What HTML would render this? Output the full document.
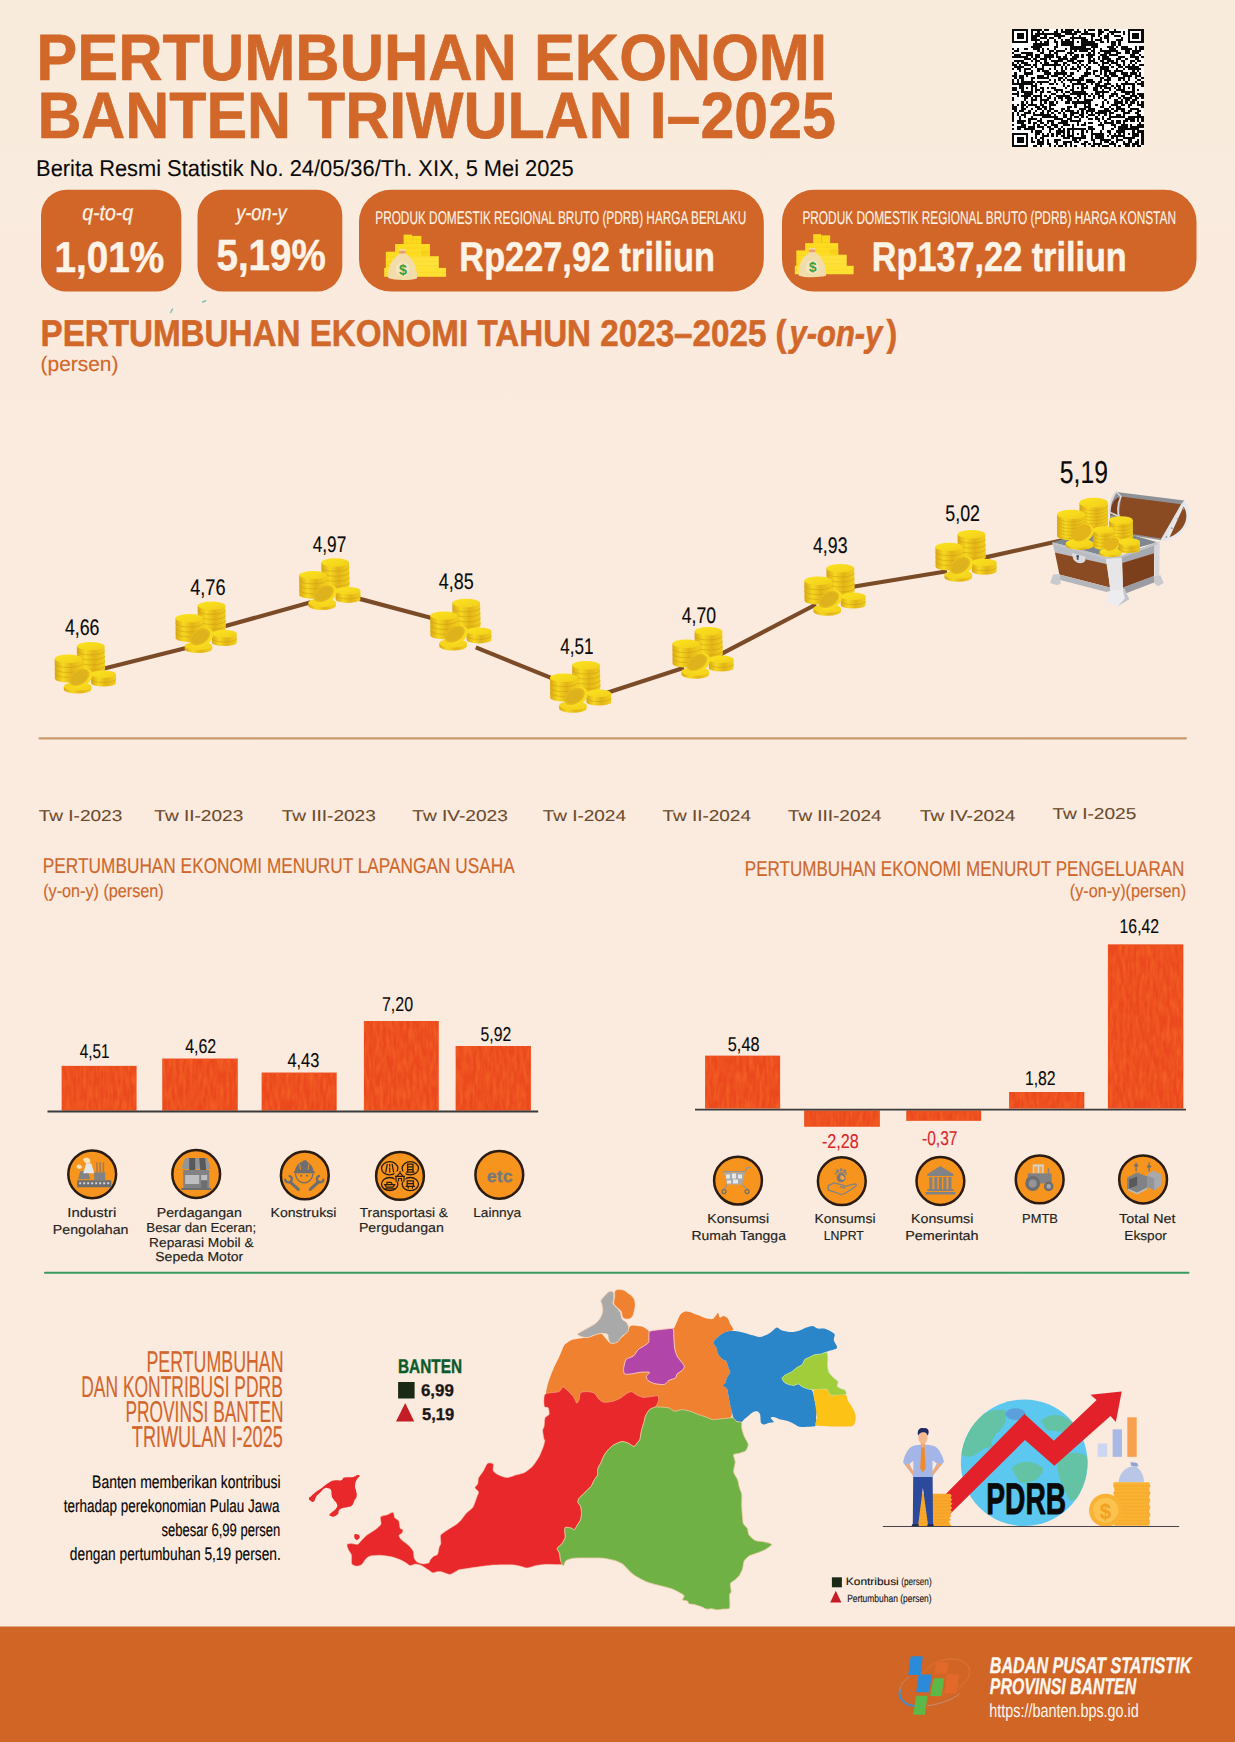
<!DOCTYPE html>
<html lang="id">
<head>
<meta charset="utf-8">
<title>Pertumbuhan Ekonomi Banten Triwulan I-2025</title>
<style>
html,body{margin:0;padding:0;background:#fbeade;}
body{width:1235px;height:1742px;overflow:hidden;font-family:"Liberation Sans", sans-serif;}
svg{display:block;position:absolute;left:0;top:0;}
text{font-family:"Liberation Sans", sans-serif;white-space:pre;text-rendering:geometricPrecision;}
</style>
</head>
<body>
<svg width="1235" height="1742" viewBox="0 0 1235 1742">
<defs>
<linearGradient id="cs" x1="0" x2="1" y1="0" y2="0">
 <stop offset="0" stop-color="#d9a714"/><stop offset="0.3" stop-color="#f7d820"/><stop offset="0.6" stop-color="#e2b417"/><stop offset="1" stop-color="#f3cf1c"/>
</linearGradient>
<linearGradient id="ct" x1="0" x2="1" y1="0" y2="1">
 <stop offset="0" stop-color="#fbe31f"/><stop offset="1" stop-color="#f2cf1a"/>
</linearGradient>
<filter id="tex" x="0" y="0" width="100%" height="100%" color-interpolation-filters="sRGB">
 <feTurbulence type="fractalNoise" baseFrequency="0.3 0.07" numOctaves="2" seed="3" result="n"/>
 <feColorMatrix in="n" type="matrix" values="0 0 0 0 0.96  0 0 0 0 0.41  0 0 0 0 0.15  1.4 0 0 0 -0.42" result="c"/>
 <feComposite in="c" in2="SourceGraphic" operator="in" result="cc"/>
 <feMerge><feMergeNode in="SourceGraphic"/><feMergeNode in="cc"/></feMerge>
</filter>
<g id="coins">
 <!-- back stack -->
 <path d="M22.6,4 L22.6,27 A13.8,4 0 0 0 50.8,27 L50.2,4 Z" fill="url(#cs)"/>
 <path d="M22.8,9 A13.8,4 0 0 0 50.4,9 M23,14 A13.8,4 0 0 0 50.6,14 M23,19 A13.8,4 0 0 0 50.8,19 M23,24 A13.8,4 0 0 0 50.8,24" fill="none" stroke="#c99a10" stroke-width="0.7" opacity="0.7"/>
 <ellipse cx="36.4" cy="4.2" rx="13.8" ry="4.2" fill="url(#ct)"/>
 <!-- left stack -->
 <path d="M0.4,16.8 L0.6,37 A13.8,4 0 0 0 28,37 L28,16.8 Z" fill="url(#cs)"/>
 <path d="M0.5,22 A13.8,4 0 0 0 28,22 M0.5,27 A13.8,4 0 0 0 28,27 M0.6,32 A13.8,4 0 0 0 28,32" fill="none" stroke="#c99a10" stroke-width="0.7" opacity="0.7"/>
 <ellipse cx="14.2" cy="16.8" rx="13.8" ry="4.2" fill="url(#ct)"/>
 <!-- front right -->
 <path d="M36.8,32.4 L36.8,41 A12.4,3.6 0 0 0 61.6,41 L61.6,32.4 Z" fill="url(#cs)"/>
 <path d="M36.8,37 A12.4,3.6 0 0 0 61.6,37" fill="none" stroke="#c99a10" stroke-width="0.7" opacity="0.7"/>
 <ellipse cx="49.2" cy="32.4" rx="12.4" ry="3.8" fill="url(#ct)"/>
 <!-- bottom coin -->
 <path d="M9.5,44.5 L9.5,47.5 A13.8,4.2 0 0 0 37.1,47.5 L37.1,44.5 Z" fill="url(#cs)"/>
 <ellipse cx="23.3" cy="44.5" rx="13.8" ry="4.2" fill="#f6d51d"/>
 <!-- tilted coin -->
 <g transform="rotate(-33 25.5 35.5)"><ellipse cx="26" cy="36.6" rx="12.6" ry="8.8" fill="#f8da20"/><ellipse cx="25" cy="35" rx="11.2" ry="7.4" fill="#e6ba1b"/><ellipse cx="25" cy="35.2" rx="9.4" ry="6" fill="#deb21c"/></g>
</g>
</defs>
<linearGradient id="bgg" x1="0" y1="0" x2="0" y2="1"><stop offset="0" stop-color="#f8ebdc"/><stop offset="0.45" stop-color="#f9ebdd"/><stop offset="1" stop-color="#fbeade"/></linearGradient>
<rect x="0" y="0" width="1235" height="420" fill="url(#bgg)"/>
<rect x="1012" y="29" width="131.8" height="118" fill="#fff"/><path d="M1012.00,29.00h16.19v2.07h-16.19zM1030.50,29.00h11.56v2.07h-11.56zM1044.37,29.00h4.62v2.07h-4.62zM1055.93,29.00h2.31v2.07h-2.31zM1060.56,29.00h2.31v2.07h-2.31zM1065.18,29.00h9.25v2.07h-9.25zM1076.74,29.00h2.31v2.07h-2.31zM1083.68,29.00h2.31v2.07h-2.31zM1088.31,29.00h6.94v2.07h-6.94zM1097.55,29.00h4.62v2.07h-4.62zM1104.49,29.00h4.62v2.07h-4.62zM1113.74,29.00h2.31v2.07h-2.31zM1127.61,29.00h16.19v2.07h-16.19zM1012.00,31.07h2.31v2.07h-2.31zM1025.87,31.07h2.31v2.07h-2.31zM1030.50,31.07h2.31v2.07h-2.31zM1037.44,31.07h2.31v2.07h-2.31zM1042.06,31.07h2.31v2.07h-2.31zM1053.62,31.07h4.62v2.07h-4.62zM1060.56,31.07h11.56v2.07h-11.56zM1074.43,31.07h6.94v2.07h-6.94zM1083.68,31.07h4.62v2.07h-4.62zM1097.55,31.07h6.94v2.07h-6.94zM1109.12,31.07h11.56v2.07h-11.56zM1122.99,31.07h2.31v2.07h-2.31zM1127.61,31.07h2.31v2.07h-2.31zM1141.49,31.07h2.31v2.07h-2.31zM1012.00,33.14h2.31v2.07h-2.31zM1016.62,33.14h6.94v2.07h-6.94zM1025.87,33.14h2.31v2.07h-2.31zM1030.50,33.14h2.31v2.07h-2.31zM1035.12,33.14h25.44v2.07h-25.44zM1065.18,33.14h11.56v2.07h-11.56zM1081.37,33.14h13.87v2.07h-13.87zM1097.55,33.14h4.62v2.07h-4.62zM1106.80,33.14h2.31v2.07h-2.31zM1111.43,33.14h2.31v2.07h-2.31zM1122.99,33.14h2.31v2.07h-2.31zM1127.61,33.14h2.31v2.07h-2.31zM1132.24,33.14h6.94v2.07h-6.94zM1141.49,33.14h2.31v2.07h-2.31zM1012.00,35.21h2.31v2.07h-2.31zM1016.62,35.21h6.94v2.07h-6.94zM1025.87,35.21h2.31v2.07h-2.31zM1030.50,35.21h9.25v2.07h-9.25zM1044.37,35.21h2.31v2.07h-2.31zM1053.62,35.21h11.56v2.07h-11.56zM1072.12,35.21h2.31v2.07h-2.31zM1079.06,35.21h2.31v2.07h-2.31zM1090.62,35.21h4.62v2.07h-4.62zM1097.55,35.21h2.31v2.07h-2.31zM1104.49,35.21h4.62v2.07h-4.62zM1113.74,35.21h6.94v2.07h-6.94zM1127.61,35.21h2.31v2.07h-2.31zM1132.24,35.21h6.94v2.07h-6.94zM1141.49,35.21h2.31v2.07h-2.31zM1012.00,37.28h2.31v2.07h-2.31zM1016.62,37.28h6.94v2.07h-6.94zM1025.87,37.28h2.31v2.07h-2.31zM1030.50,37.28h6.94v2.07h-6.94zM1039.75,37.28h6.94v2.07h-6.94zM1049.00,37.28h4.62v2.07h-4.62zM1058.25,37.28h2.31v2.07h-2.31zM1069.81,37.28h16.19v2.07h-16.19zM1090.62,37.28h2.31v2.07h-2.31zM1099.87,37.28h2.31v2.07h-2.31zM1104.49,37.28h4.62v2.07h-4.62zM1120.68,37.28h2.31v2.07h-2.31zM1127.61,37.28h2.31v2.07h-2.31zM1132.24,37.28h6.94v2.07h-6.94zM1141.49,37.28h2.31v2.07h-2.31zM1012.00,39.35h2.31v2.07h-2.31zM1025.87,39.35h2.31v2.07h-2.31zM1030.50,39.35h9.25v2.07h-9.25zM1046.68,39.35h2.31v2.07h-2.31zM1053.62,39.35h2.31v2.07h-2.31zM1060.56,39.35h2.31v2.07h-2.31zM1065.18,39.35h4.62v2.07h-4.62zM1072.12,39.35h2.31v2.07h-2.31zM1081.37,39.35h6.94v2.07h-6.94zM1090.62,39.35h2.31v2.07h-2.31zM1095.24,39.35h6.94v2.07h-6.94zM1106.80,39.35h2.31v2.07h-2.31zM1116.05,39.35h6.94v2.07h-6.94zM1127.61,39.35h2.31v2.07h-2.31zM1141.49,39.35h2.31v2.07h-2.31zM1012.00,41.42h16.19v2.07h-16.19zM1035.12,41.42h2.31v2.07h-2.31zM1039.75,41.42h2.31v2.07h-2.31zM1044.37,41.42h4.62v2.07h-4.62zM1053.62,41.42h4.62v2.07h-4.62zM1060.56,41.42h13.87v2.07h-13.87zM1076.74,41.42h2.31v2.07h-2.31zM1081.37,41.42h13.87v2.07h-13.87zM1099.87,41.42h4.62v2.07h-4.62zM1106.80,41.42h2.31v2.07h-2.31zM1111.43,41.42h4.62v2.07h-4.62zM1118.36,41.42h2.31v2.07h-2.31zM1127.61,41.42h16.19v2.07h-16.19zM1032.81,43.49h16.19v2.07h-16.19zM1055.93,43.49h2.31v2.07h-2.31zM1060.56,43.49h13.87v2.07h-13.87zM1081.37,43.49h16.19v2.07h-16.19zM1111.43,43.49h4.62v2.07h-4.62zM1118.36,43.49h2.31v2.07h-2.31zM1030.50,45.56h11.56v2.07h-11.56zM1053.62,45.56h4.62v2.07h-4.62zM1069.81,45.56h16.19v2.07h-16.19zM1090.62,45.56h6.94v2.07h-6.94zM1106.80,45.56h6.94v2.07h-6.94zM1116.05,45.56h2.31v2.07h-2.31zM1120.68,45.56h6.94v2.07h-6.94zM1134.55,45.56h2.31v2.07h-2.31zM1139.18,45.56h4.62v2.07h-4.62zM1012.00,47.63h2.31v2.07h-2.31zM1016.62,47.63h2.31v2.07h-2.31zM1023.56,47.63h4.62v2.07h-4.62zM1032.81,47.63h6.94v2.07h-6.94zM1042.06,47.63h2.31v2.07h-2.31zM1046.68,47.63h2.31v2.07h-2.31zM1053.62,47.63h2.31v2.07h-2.31zM1065.18,47.63h2.31v2.07h-2.31zM1069.81,47.63h20.81v2.07h-20.81zM1092.93,47.63h2.31v2.07h-2.31zM1099.87,47.63h2.31v2.07h-2.31zM1109.12,47.63h6.94v2.07h-6.94zM1120.68,47.63h11.56v2.07h-11.56zM1134.55,47.63h2.31v2.07h-2.31zM1139.18,47.63h4.62v2.07h-4.62zM1014.31,49.70h4.62v2.07h-4.62zM1037.44,49.70h2.31v2.07h-2.31zM1042.06,49.70h2.31v2.07h-2.31zM1049.00,49.70h4.62v2.07h-4.62zM1055.93,49.70h9.25v2.07h-9.25zM1069.81,49.70h2.31v2.07h-2.31zM1074.43,49.70h2.31v2.07h-2.31zM1079.06,49.70h9.25v2.07h-9.25zM1090.62,49.70h4.62v2.07h-4.62zM1099.87,49.70h18.50v2.07h-18.50zM1125.30,49.70h4.62v2.07h-4.62zM1132.24,49.70h9.25v2.07h-9.25zM1012.00,51.77h2.31v2.07h-2.31zM1021.25,51.77h11.56v2.07h-11.56zM1039.75,51.77h4.62v2.07h-4.62zM1049.00,51.77h2.31v2.07h-2.31zM1053.62,51.77h4.62v2.07h-4.62zM1067.49,51.77h6.94v2.07h-6.94zM1088.31,51.77h2.31v2.07h-2.31zM1092.93,51.77h2.31v2.07h-2.31zM1097.55,51.77h2.31v2.07h-2.31zM1104.49,51.77h6.94v2.07h-6.94zM1116.05,51.77h4.62v2.07h-4.62zM1125.30,51.77h4.62v2.07h-4.62zM1132.24,51.77h6.94v2.07h-6.94zM1014.31,53.84h6.94v2.07h-6.94zM1025.87,53.84h6.94v2.07h-6.94zM1035.12,53.84h4.62v2.07h-4.62zM1044.37,53.84h9.25v2.07h-9.25zM1055.93,53.84h2.31v2.07h-2.31zM1065.18,53.84h2.31v2.07h-2.31zM1069.81,53.84h2.31v2.07h-2.31zM1074.43,53.84h4.62v2.07h-4.62zM1081.37,53.84h2.31v2.07h-2.31zM1085.99,53.84h9.25v2.07h-9.25zM1099.87,53.84h6.94v2.07h-6.94zM1109.12,53.84h9.25v2.07h-9.25zM1129.93,53.84h4.62v2.07h-4.62zM1139.18,53.84h2.31v2.07h-2.31zM1012.00,55.91h16.19v2.07h-16.19zM1030.50,55.91h2.31v2.07h-2.31zM1035.12,55.91h4.62v2.07h-4.62zM1044.37,55.91h9.25v2.07h-9.25zM1055.93,55.91h4.62v2.07h-4.62zM1062.87,55.91h4.62v2.07h-4.62zM1072.12,55.91h6.94v2.07h-6.94zM1081.37,55.91h2.31v2.07h-2.31zM1088.31,55.91h4.62v2.07h-4.62zM1097.55,55.91h2.31v2.07h-2.31zM1102.18,55.91h6.94v2.07h-6.94zM1118.36,55.91h6.94v2.07h-6.94zM1129.93,55.91h9.25v2.07h-9.25zM1141.49,55.91h2.31v2.07h-2.31zM1023.56,57.98h6.94v2.07h-6.94zM1032.81,57.98h4.62v2.07h-4.62zM1039.75,57.98h6.94v2.07h-6.94zM1049.00,57.98h2.31v2.07h-2.31zM1058.25,57.98h9.25v2.07h-9.25zM1069.81,57.98h6.94v2.07h-6.94zM1088.31,57.98h2.31v2.07h-2.31zM1092.93,57.98h2.31v2.07h-2.31zM1097.55,57.98h2.31v2.07h-2.31zM1102.18,57.98h9.25v2.07h-9.25zM1116.05,57.98h4.62v2.07h-4.62zM1125.30,57.98h2.31v2.07h-2.31zM1134.55,57.98h4.62v2.07h-4.62zM1014.31,60.05h9.25v2.07h-9.25zM1030.50,60.05h2.31v2.07h-2.31zM1035.12,60.05h4.62v2.07h-4.62zM1044.37,60.05h2.31v2.07h-2.31zM1051.31,60.05h11.56v2.07h-11.56zM1067.49,60.05h6.94v2.07h-6.94zM1076.74,60.05h6.94v2.07h-6.94zM1088.31,60.05h6.94v2.07h-6.94zM1099.87,60.05h4.62v2.07h-4.62zM1106.80,60.05h6.94v2.07h-6.94zM1116.05,60.05h2.31v2.07h-2.31zM1120.68,60.05h4.62v2.07h-4.62zM1129.93,60.05h4.62v2.07h-4.62zM1136.86,60.05h4.62v2.07h-4.62zM1012.00,62.12h2.31v2.07h-2.31zM1016.62,62.12h2.31v2.07h-2.31zM1021.25,62.12h6.94v2.07h-6.94zM1035.12,62.12h2.31v2.07h-2.31zM1039.75,62.12h2.31v2.07h-2.31zM1044.37,62.12h4.62v2.07h-4.62zM1053.62,62.12h4.62v2.07h-4.62zM1062.87,62.12h4.62v2.07h-4.62zM1072.12,62.12h4.62v2.07h-4.62zM1079.06,62.12h2.31v2.07h-2.31zM1088.31,62.12h2.31v2.07h-2.31zM1092.93,62.12h4.62v2.07h-4.62zM1102.18,62.12h6.94v2.07h-6.94zM1111.43,62.12h6.94v2.07h-6.94zM1122.99,62.12h2.31v2.07h-2.31zM1129.93,62.12h2.31v2.07h-2.31zM1134.55,62.12h2.31v2.07h-2.31zM1012.00,64.19h4.62v2.07h-4.62zM1018.94,64.19h2.31v2.07h-2.31zM1023.56,64.19h6.94v2.07h-6.94zM1032.81,64.19h4.62v2.07h-4.62zM1042.06,64.19h18.50v2.07h-18.50zM1062.87,64.19h2.31v2.07h-2.31zM1067.49,64.19h2.31v2.07h-2.31zM1076.74,64.19h2.31v2.07h-2.31zM1081.37,64.19h2.31v2.07h-2.31zM1085.99,64.19h2.31v2.07h-2.31zM1097.55,64.19h2.31v2.07h-2.31zM1102.18,64.19h2.31v2.07h-2.31zM1109.12,64.19h2.31v2.07h-2.31zM1116.05,64.19h4.62v2.07h-4.62zM1122.99,64.19h2.31v2.07h-2.31zM1127.61,64.19h2.31v2.07h-2.31zM1132.24,64.19h2.31v2.07h-2.31zM1139.18,64.19h4.62v2.07h-4.62zM1014.31,66.26h9.25v2.07h-9.25zM1030.50,66.26h2.31v2.07h-2.31zM1035.12,66.26h2.31v2.07h-2.31zM1042.06,66.26h2.31v2.07h-2.31zM1053.62,66.26h2.31v2.07h-2.31zM1060.56,66.26h2.31v2.07h-2.31zM1065.18,66.26h2.31v2.07h-2.31zM1072.12,66.26h2.31v2.07h-2.31zM1076.74,66.26h4.62v2.07h-4.62zM1083.68,66.26h2.31v2.07h-2.31zM1088.31,66.26h2.31v2.07h-2.31zM1099.87,66.26h9.25v2.07h-9.25zM1111.43,66.26h2.31v2.07h-2.31zM1118.36,66.26h4.62v2.07h-4.62zM1125.30,66.26h13.87v2.07h-13.87zM1012.00,68.33h2.31v2.07h-2.31zM1016.62,68.33h4.62v2.07h-4.62zM1023.56,68.33h6.94v2.07h-6.94zM1037.44,68.33h6.94v2.07h-6.94zM1049.00,68.33h2.31v2.07h-2.31zM1053.62,68.33h2.31v2.07h-2.31zM1060.56,68.33h2.31v2.07h-2.31zM1065.18,68.33h2.31v2.07h-2.31zM1069.81,68.33h6.94v2.07h-6.94zM1079.06,68.33h2.31v2.07h-2.31zM1085.99,68.33h4.62v2.07h-4.62zM1099.87,68.33h9.25v2.07h-9.25zM1116.05,68.33h2.31v2.07h-2.31zM1122.99,68.33h2.31v2.07h-2.31zM1127.61,68.33h13.87v2.07h-13.87zM1018.94,70.40h2.31v2.07h-2.31zM1023.56,70.40h2.31v2.07h-2.31zM1030.50,70.40h2.31v2.07h-2.31zM1037.44,70.40h2.31v2.07h-2.31zM1042.06,70.40h6.94v2.07h-6.94zM1055.93,70.40h2.31v2.07h-2.31zM1060.56,70.40h4.62v2.07h-4.62zM1076.74,70.40h2.31v2.07h-2.31zM1085.99,70.40h2.31v2.07h-2.31zM1092.93,70.40h4.62v2.07h-4.62zM1099.87,70.40h2.31v2.07h-2.31zM1104.49,70.40h6.94v2.07h-6.94zM1113.74,70.40h9.25v2.07h-9.25zM1132.24,70.40h2.31v2.07h-2.31zM1136.86,70.40h2.31v2.07h-2.31zM1014.31,72.47h2.31v2.07h-2.31zM1023.56,72.47h9.25v2.07h-9.25zM1044.37,72.47h6.94v2.07h-6.94zM1053.62,72.47h13.87v2.07h-13.87zM1069.81,72.47h4.62v2.07h-4.62zM1083.68,72.47h6.94v2.07h-6.94zM1092.93,72.47h2.31v2.07h-2.31zM1099.87,72.47h2.31v2.07h-2.31zM1104.49,72.47h2.31v2.07h-2.31zM1109.12,72.47h6.94v2.07h-6.94zM1120.68,72.47h6.94v2.07h-6.94zM1129.93,72.47h6.94v2.07h-6.94zM1139.18,72.47h2.31v2.07h-2.31zM1012.00,74.54h4.62v2.07h-4.62zM1018.94,74.54h4.62v2.07h-4.62zM1025.87,74.54h2.31v2.07h-2.31zM1037.44,74.54h6.94v2.07h-6.94zM1046.68,74.54h2.31v2.07h-2.31zM1051.31,74.54h6.94v2.07h-6.94zM1062.87,74.54h2.31v2.07h-2.31zM1067.49,74.54h4.62v2.07h-4.62zM1081.37,74.54h6.94v2.07h-6.94zM1095.24,74.54h4.62v2.07h-4.62zM1104.49,74.54h4.62v2.07h-4.62zM1111.43,74.54h6.94v2.07h-6.94zM1122.99,74.54h9.25v2.07h-9.25zM1134.55,74.54h6.94v2.07h-6.94zM1014.31,76.61h2.31v2.07h-2.31zM1018.94,76.61h4.62v2.07h-4.62zM1030.50,76.61h4.62v2.07h-4.62zM1037.44,76.61h11.56v2.07h-11.56zM1058.25,76.61h4.62v2.07h-4.62zM1065.18,76.61h2.31v2.07h-2.31zM1072.12,76.61h2.31v2.07h-2.31zM1079.06,76.61h4.62v2.07h-4.62zM1099.87,76.61h4.62v2.07h-4.62zM1106.80,76.61h4.62v2.07h-4.62zM1118.36,76.61h6.94v2.07h-6.94zM1127.61,76.61h2.31v2.07h-2.31zM1134.55,76.61h2.31v2.07h-2.31zM1141.49,76.61h2.31v2.07h-2.31zM1012.00,78.68h2.31v2.07h-2.31zM1016.62,78.68h2.31v2.07h-2.31zM1021.25,78.68h2.31v2.07h-2.31zM1030.50,78.68h2.31v2.07h-2.31zM1049.00,78.68h2.31v2.07h-2.31zM1053.62,78.68h2.31v2.07h-2.31zM1058.25,78.68h2.31v2.07h-2.31zM1062.87,78.68h2.31v2.07h-2.31zM1067.49,78.68h16.19v2.07h-16.19zM1085.99,78.68h6.94v2.07h-6.94zM1099.87,78.68h2.31v2.07h-2.31zM1104.49,78.68h6.94v2.07h-6.94zM1118.36,78.68h2.31v2.07h-2.31zM1122.99,78.68h2.31v2.07h-2.31zM1127.61,78.68h2.31v2.07h-2.31zM1136.86,78.68h4.62v2.07h-4.62zM1012.00,80.75h2.31v2.07h-2.31zM1016.62,80.75h2.31v2.07h-2.31zM1021.25,80.75h13.87v2.07h-13.87zM1037.44,80.75h11.56v2.07h-11.56zM1053.62,80.75h2.31v2.07h-2.31zM1060.56,80.75h2.31v2.07h-2.31zM1069.81,80.75h2.31v2.07h-2.31zM1076.74,80.75h4.62v2.07h-4.62zM1085.99,80.75h9.25v2.07h-9.25zM1097.55,80.75h4.62v2.07h-4.62zM1106.80,80.75h2.31v2.07h-2.31zM1125.30,80.75h2.31v2.07h-2.31zM1134.55,80.75h2.31v2.07h-2.31zM1141.49,80.75h2.31v2.07h-2.31zM1012.00,82.82h20.81v2.07h-20.81zM1035.12,82.82h2.31v2.07h-2.31zM1039.75,82.82h2.31v2.07h-2.31zM1049.00,82.82h4.62v2.07h-4.62zM1055.93,82.82h2.31v2.07h-2.31zM1062.87,82.82h2.31v2.07h-2.31zM1072.12,82.82h13.87v2.07h-13.87zM1090.62,82.82h2.31v2.07h-2.31zM1095.24,82.82h4.62v2.07h-4.62zM1104.49,82.82h6.94v2.07h-6.94zM1116.05,82.82h2.31v2.07h-2.31zM1120.68,82.82h13.87v2.07h-13.87zM1136.86,82.82h6.94v2.07h-6.94zM1018.94,84.89h4.62v2.07h-4.62zM1030.50,84.89h6.94v2.07h-6.94zM1062.87,84.89h2.31v2.07h-2.31zM1067.49,84.89h2.31v2.07h-2.31zM1072.12,84.89h2.31v2.07h-2.31zM1081.37,84.89h2.31v2.07h-2.31zM1085.99,84.89h2.31v2.07h-2.31zM1095.24,84.89h11.56v2.07h-11.56zM1111.43,84.89h2.31v2.07h-2.31zM1116.05,84.89h4.62v2.07h-4.62zM1122.99,84.89h2.31v2.07h-2.31zM1132.24,84.89h2.31v2.07h-2.31zM1141.49,84.89h2.31v2.07h-2.31zM1012.00,86.96h4.62v2.07h-4.62zM1018.94,86.96h4.62v2.07h-4.62zM1025.87,86.96h2.31v2.07h-2.31zM1030.50,86.96h2.31v2.07h-2.31zM1035.12,86.96h2.31v2.07h-2.31zM1039.75,86.96h4.62v2.07h-4.62zM1046.68,86.96h2.31v2.07h-2.31zM1051.31,86.96h4.62v2.07h-4.62zM1065.18,86.96h2.31v2.07h-2.31zM1072.12,86.96h2.31v2.07h-2.31zM1076.74,86.96h2.31v2.07h-2.31zM1081.37,86.96h6.94v2.07h-6.94zM1092.93,86.96h4.62v2.07h-4.62zM1099.87,86.96h2.31v2.07h-2.31zM1104.49,86.96h6.94v2.07h-6.94zM1113.74,86.96h2.31v2.07h-2.31zM1118.36,86.96h2.31v2.07h-2.31zM1122.99,86.96h2.31v2.07h-2.31zM1127.61,86.96h2.31v2.07h-2.31zM1132.24,86.96h2.31v2.07h-2.31zM1012.00,89.04h4.62v2.07h-4.62zM1021.25,89.04h2.31v2.07h-2.31zM1030.50,89.04h2.31v2.07h-2.31zM1035.12,89.04h4.62v2.07h-4.62zM1042.06,89.04h2.31v2.07h-2.31zM1053.62,89.04h9.25v2.07h-9.25zM1069.81,89.04h4.62v2.07h-4.62zM1081.37,89.04h2.31v2.07h-2.31zM1092.93,89.04h4.62v2.07h-4.62zM1102.18,89.04h2.31v2.07h-2.31zM1109.12,89.04h2.31v2.07h-2.31zM1116.05,89.04h9.25v2.07h-9.25zM1132.24,89.04h2.31v2.07h-2.31zM1136.86,89.04h2.31v2.07h-2.31zM1016.62,91.11h2.31v2.07h-2.31zM1021.25,91.11h11.56v2.07h-11.56zM1035.12,91.11h2.31v2.07h-2.31zM1039.75,91.11h4.62v2.07h-4.62zM1046.68,91.11h4.62v2.07h-4.62zM1055.93,91.11h2.31v2.07h-2.31zM1060.56,91.11h2.31v2.07h-2.31zM1065.18,91.11h4.62v2.07h-4.62zM1072.12,91.11h13.87v2.07h-13.87zM1095.24,91.11h13.87v2.07h-13.87zM1113.74,91.11h2.31v2.07h-2.31zM1120.68,91.11h13.87v2.07h-13.87zM1012.00,93.18h6.94v2.07h-6.94zM1023.56,93.18h9.25v2.07h-9.25zM1039.75,93.18h2.31v2.07h-2.31zM1051.31,93.18h4.62v2.07h-4.62zM1062.87,93.18h2.31v2.07h-2.31zM1069.81,93.18h18.50v2.07h-18.50zM1090.62,93.18h2.31v2.07h-2.31zM1095.24,93.18h4.62v2.07h-4.62zM1102.18,93.18h2.31v2.07h-2.31zM1111.43,93.18h6.94v2.07h-6.94zM1125.30,93.18h4.62v2.07h-4.62zM1132.24,93.18h2.31v2.07h-2.31zM1136.86,93.18h6.94v2.07h-6.94zM1016.62,95.25h2.31v2.07h-2.31zM1021.25,95.25h9.25v2.07h-9.25zM1032.81,95.25h9.25v2.07h-9.25zM1044.37,95.25h2.31v2.07h-2.31zM1049.00,95.25h2.31v2.07h-2.31zM1055.93,95.25h13.87v2.07h-13.87zM1076.74,95.25h4.62v2.07h-4.62zM1083.68,95.25h2.31v2.07h-2.31zM1088.31,95.25h2.31v2.07h-2.31zM1092.93,95.25h2.31v2.07h-2.31zM1097.55,95.25h6.94v2.07h-6.94zM1109.12,95.25h4.62v2.07h-4.62zM1116.05,95.25h2.31v2.07h-2.31zM1120.68,95.25h4.62v2.07h-4.62zM1129.93,95.25h6.94v2.07h-6.94zM1139.18,95.25h4.62v2.07h-4.62zM1012.00,97.32h2.31v2.07h-2.31zM1023.56,97.32h4.62v2.07h-4.62zM1030.50,97.32h2.31v2.07h-2.31zM1035.12,97.32h2.31v2.07h-2.31zM1039.75,97.32h2.31v2.07h-2.31zM1046.68,97.32h4.62v2.07h-4.62zM1053.62,97.32h2.31v2.07h-2.31zM1058.25,97.32h4.62v2.07h-4.62zM1065.18,97.32h6.94v2.07h-6.94zM1074.43,97.32h2.31v2.07h-2.31zM1079.06,97.32h2.31v2.07h-2.31zM1083.68,97.32h2.31v2.07h-2.31zM1092.93,97.32h2.31v2.07h-2.31zM1097.55,97.32h2.31v2.07h-2.31zM1102.18,97.32h2.31v2.07h-2.31zM1109.12,97.32h2.31v2.07h-2.31zM1118.36,97.32h2.31v2.07h-2.31zM1122.99,97.32h9.25v2.07h-9.25zM1134.55,97.32h4.62v2.07h-4.62zM1141.49,97.32h2.31v2.07h-2.31zM1012.00,99.39h2.31v2.07h-2.31zM1023.56,99.39h2.31v2.07h-2.31zM1030.50,99.39h6.94v2.07h-6.94zM1039.75,99.39h9.25v2.07h-9.25zM1053.62,99.39h2.31v2.07h-2.31zM1060.56,99.39h2.31v2.07h-2.31zM1067.49,99.39h4.62v2.07h-4.62zM1076.74,99.39h2.31v2.07h-2.31zM1083.68,99.39h9.25v2.07h-9.25zM1104.49,99.39h2.31v2.07h-2.31zM1113.74,99.39h4.62v2.07h-4.62zM1120.68,99.39h2.31v2.07h-2.31zM1125.30,99.39h4.62v2.07h-4.62zM1132.24,99.39h4.62v2.07h-4.62zM1021.25,101.46h2.31v2.07h-2.31zM1025.87,101.46h2.31v2.07h-2.31zM1030.50,101.46h2.31v2.07h-2.31zM1039.75,101.46h2.31v2.07h-2.31zM1044.37,101.46h2.31v2.07h-2.31zM1049.00,101.46h4.62v2.07h-4.62zM1055.93,101.46h2.31v2.07h-2.31zM1065.18,101.46h4.62v2.07h-4.62zM1072.12,101.46h18.50v2.07h-18.50zM1102.18,101.46h2.31v2.07h-2.31zM1106.80,101.46h2.31v2.07h-2.31zM1113.74,101.46h9.25v2.07h-9.25zM1125.30,101.46h2.31v2.07h-2.31zM1129.93,101.46h4.62v2.07h-4.62zM1136.86,101.46h2.31v2.07h-2.31zM1141.49,101.46h2.31v2.07h-2.31zM1012.00,103.53h2.31v2.07h-2.31zM1016.62,103.53h2.31v2.07h-2.31zM1021.25,103.53h4.62v2.07h-4.62zM1028.19,103.53h9.25v2.07h-9.25zM1039.75,103.53h4.62v2.07h-4.62zM1049.00,103.53h6.94v2.07h-6.94zM1074.43,103.53h2.31v2.07h-2.31zM1083.68,103.53h2.31v2.07h-2.31zM1088.31,103.53h2.31v2.07h-2.31zM1095.24,103.53h2.31v2.07h-2.31zM1102.18,103.53h2.31v2.07h-2.31zM1111.43,103.53h6.94v2.07h-6.94zM1120.68,103.53h4.62v2.07h-4.62zM1127.61,103.53h4.62v2.07h-4.62zM1136.86,103.53h6.94v2.07h-6.94zM1012.00,105.60h4.62v2.07h-4.62zM1021.25,105.60h2.31v2.07h-2.31zM1025.87,105.60h2.31v2.07h-2.31zM1035.12,105.60h4.62v2.07h-4.62zM1042.06,105.60h4.62v2.07h-4.62zM1049.00,105.60h2.31v2.07h-2.31zM1067.49,105.60h4.62v2.07h-4.62zM1074.43,105.60h2.31v2.07h-2.31zM1083.68,105.60h6.94v2.07h-6.94zM1099.87,105.60h4.62v2.07h-4.62zM1109.12,105.60h2.31v2.07h-2.31zM1116.05,105.60h4.62v2.07h-4.62zM1127.61,105.60h2.31v2.07h-2.31zM1141.49,105.60h2.31v2.07h-2.31zM1012.00,107.67h4.62v2.07h-4.62zM1021.25,107.67h4.62v2.07h-4.62zM1030.50,107.67h2.31v2.07h-2.31zM1037.44,107.67h4.62v2.07h-4.62zM1044.37,107.67h2.31v2.07h-2.31zM1049.00,107.67h4.62v2.07h-4.62zM1060.56,107.67h4.62v2.07h-4.62zM1067.49,107.67h2.31v2.07h-2.31zM1079.06,107.67h6.94v2.07h-6.94zM1088.31,107.67h6.94v2.07h-6.94zM1104.49,107.67h4.62v2.07h-4.62zM1111.43,107.67h2.31v2.07h-2.31zM1116.05,107.67h9.25v2.07h-9.25zM1129.93,107.67h9.25v2.07h-9.25zM1014.31,109.74h2.31v2.07h-2.31zM1018.94,109.74h4.62v2.07h-4.62zM1028.19,109.74h2.31v2.07h-2.31zM1035.12,109.74h2.31v2.07h-2.31zM1042.06,109.74h2.31v2.07h-2.31zM1046.68,109.74h4.62v2.07h-4.62zM1053.62,109.74h4.62v2.07h-4.62zM1060.56,109.74h2.31v2.07h-2.31zM1065.18,109.74h9.25v2.07h-9.25zM1076.74,109.74h2.31v2.07h-2.31zM1081.37,109.74h2.31v2.07h-2.31zM1085.99,109.74h9.25v2.07h-9.25zM1097.55,109.74h13.87v2.07h-13.87zM1113.74,109.74h4.62v2.07h-4.62zM1120.68,109.74h4.62v2.07h-4.62zM1127.61,109.74h4.62v2.07h-4.62zM1136.86,109.74h4.62v2.07h-4.62zM1012.00,111.81h2.31v2.07h-2.31zM1016.62,111.81h2.31v2.07h-2.31zM1023.56,111.81h6.94v2.07h-6.94zM1032.81,111.81h2.31v2.07h-2.31zM1039.75,111.81h4.62v2.07h-4.62zM1046.68,111.81h2.31v2.07h-2.31zM1051.31,111.81h2.31v2.07h-2.31zM1058.25,111.81h2.31v2.07h-2.31zM1062.87,111.81h2.31v2.07h-2.31zM1069.81,111.81h9.25v2.07h-9.25zM1081.37,111.81h2.31v2.07h-2.31zM1085.99,111.81h2.31v2.07h-2.31zM1090.62,111.81h2.31v2.07h-2.31zM1095.24,111.81h11.56v2.07h-11.56zM1109.12,111.81h4.62v2.07h-4.62zM1122.99,111.81h6.94v2.07h-6.94zM1134.55,111.81h4.62v2.07h-4.62zM1012.00,113.88h2.31v2.07h-2.31zM1016.62,113.88h2.31v2.07h-2.31zM1021.25,113.88h4.62v2.07h-4.62zM1032.81,113.88h18.50v2.07h-18.50zM1053.62,113.88h2.31v2.07h-2.31zM1062.87,113.88h4.62v2.07h-4.62zM1069.81,113.88h4.62v2.07h-4.62zM1079.06,113.88h4.62v2.07h-4.62zM1088.31,113.88h6.94v2.07h-6.94zM1097.55,113.88h2.31v2.07h-2.31zM1104.49,113.88h2.31v2.07h-2.31zM1109.12,113.88h2.31v2.07h-2.31zM1116.05,113.88h4.62v2.07h-4.62zM1122.99,113.88h2.31v2.07h-2.31zM1136.86,113.88h4.62v2.07h-4.62zM1012.00,115.95h2.31v2.07h-2.31zM1018.94,115.95h2.31v2.07h-2.31zM1023.56,115.95h2.31v2.07h-2.31zM1030.50,115.95h2.31v2.07h-2.31zM1042.06,115.95h16.19v2.07h-16.19zM1062.87,115.95h4.62v2.07h-4.62zM1069.81,115.95h2.31v2.07h-2.31zM1074.43,115.95h4.62v2.07h-4.62zM1081.37,115.95h2.31v2.07h-2.31zM1085.99,115.95h2.31v2.07h-2.31zM1095.24,115.95h2.31v2.07h-2.31zM1102.18,115.95h2.31v2.07h-2.31zM1109.12,115.95h16.19v2.07h-16.19zM1127.61,115.95h16.19v2.07h-16.19zM1012.00,118.02h2.31v2.07h-2.31zM1018.94,118.02h2.31v2.07h-2.31zM1028.19,118.02h9.25v2.07h-9.25zM1039.75,118.02h2.31v2.07h-2.31zM1053.62,118.02h9.25v2.07h-9.25zM1067.49,118.02h4.62v2.07h-4.62zM1079.06,118.02h2.31v2.07h-2.31zM1088.31,118.02h4.62v2.07h-4.62zM1095.24,118.02h4.62v2.07h-4.62zM1102.18,118.02h2.31v2.07h-2.31zM1106.80,118.02h4.62v2.07h-4.62zM1125.30,118.02h9.25v2.07h-9.25zM1136.86,118.02h2.31v2.07h-2.31zM1141.49,118.02h2.31v2.07h-2.31zM1012.00,120.09h2.31v2.07h-2.31zM1016.62,120.09h9.25v2.07h-9.25zM1028.19,120.09h2.31v2.07h-2.31zM1037.44,120.09h4.62v2.07h-4.62zM1046.68,120.09h6.94v2.07h-6.94zM1060.56,120.09h6.94v2.07h-6.94zM1069.81,120.09h11.56v2.07h-11.56zM1097.55,120.09h2.31v2.07h-2.31zM1104.49,120.09h2.31v2.07h-2.31zM1111.43,120.09h2.31v2.07h-2.31zM1116.05,120.09h4.62v2.07h-4.62zM1122.99,120.09h4.62v2.07h-4.62zM1129.93,120.09h4.62v2.07h-4.62zM1136.86,120.09h2.31v2.07h-2.31zM1141.49,120.09h2.31v2.07h-2.31zM1016.62,122.16h6.94v2.07h-6.94zM1028.19,122.16h2.31v2.07h-2.31zM1032.81,122.16h4.62v2.07h-4.62zM1039.75,122.16h4.62v2.07h-4.62zM1046.68,122.16h2.31v2.07h-2.31zM1051.31,122.16h2.31v2.07h-2.31zM1058.25,122.16h9.25v2.07h-9.25zM1076.74,122.16h2.31v2.07h-2.31zM1083.68,122.16h2.31v2.07h-2.31zM1088.31,122.16h4.62v2.07h-4.62zM1099.87,122.16h2.31v2.07h-2.31zM1104.49,122.16h9.25v2.07h-9.25zM1116.05,122.16h4.62v2.07h-4.62zM1122.99,122.16h2.31v2.07h-2.31zM1139.18,122.16h2.31v2.07h-2.31zM1012.00,124.23h2.31v2.07h-2.31zM1021.25,124.23h4.62v2.07h-4.62zM1032.81,124.23h2.31v2.07h-2.31zM1037.44,124.23h2.31v2.07h-2.31zM1044.37,124.23h2.31v2.07h-2.31zM1051.31,124.23h6.94v2.07h-6.94zM1062.87,124.23h6.94v2.07h-6.94zM1072.12,124.23h2.31v2.07h-2.31zM1076.74,124.23h2.31v2.07h-2.31zM1081.37,124.23h4.62v2.07h-4.62zM1097.55,124.23h6.94v2.07h-6.94zM1111.43,124.23h4.62v2.07h-4.62zM1120.68,124.23h6.94v2.07h-6.94zM1129.93,124.23h2.31v2.07h-2.31zM1136.86,124.23h6.94v2.07h-6.94zM1016.62,126.30h9.25v2.07h-9.25zM1028.19,126.30h6.94v2.07h-6.94zM1037.44,126.30h6.94v2.07h-6.94zM1046.68,126.30h4.62v2.07h-4.62zM1053.62,126.30h4.62v2.07h-4.62zM1060.56,126.30h2.31v2.07h-2.31zM1072.12,126.30h2.31v2.07h-2.31zM1088.31,126.30h4.62v2.07h-4.62zM1102.18,126.30h2.31v2.07h-2.31zM1113.74,126.30h2.31v2.07h-2.31zM1118.36,126.30h9.25v2.07h-9.25zM1129.93,126.30h13.87v2.07h-13.87zM1012.00,128.37h2.31v2.07h-2.31zM1016.62,128.37h4.62v2.07h-4.62zM1023.56,128.37h11.56v2.07h-11.56zM1042.06,128.37h2.31v2.07h-2.31zM1049.00,128.37h4.62v2.07h-4.62zM1058.25,128.37h2.31v2.07h-2.31zM1062.87,128.37h2.31v2.07h-2.31zM1067.49,128.37h18.50v2.07h-18.50zM1088.31,128.37h6.94v2.07h-6.94zM1102.18,128.37h2.31v2.07h-2.31zM1111.43,128.37h2.31v2.07h-2.31zM1118.36,128.37h20.81v2.07h-20.81zM1030.50,130.44h2.31v2.07h-2.31zM1035.12,130.44h6.94v2.07h-6.94zM1049.00,130.44h2.31v2.07h-2.31zM1055.93,130.44h9.25v2.07h-9.25zM1067.49,130.44h2.31v2.07h-2.31zM1072.12,130.44h2.31v2.07h-2.31zM1081.37,130.44h2.31v2.07h-2.31zM1085.99,130.44h2.31v2.07h-2.31zM1090.62,130.44h2.31v2.07h-2.31zM1099.87,130.44h2.31v2.07h-2.31zM1106.80,130.44h4.62v2.07h-4.62zM1116.05,130.44h9.25v2.07h-9.25zM1132.24,130.44h2.31v2.07h-2.31zM1136.86,130.44h6.94v2.07h-6.94zM1012.00,132.51h16.19v2.07h-16.19zM1035.12,132.51h4.62v2.07h-4.62zM1042.06,132.51h2.31v2.07h-2.31zM1046.68,132.51h2.31v2.07h-2.31zM1051.31,132.51h2.31v2.07h-2.31zM1055.93,132.51h4.62v2.07h-4.62zM1062.87,132.51h2.31v2.07h-2.31zM1067.49,132.51h2.31v2.07h-2.31zM1072.12,132.51h2.31v2.07h-2.31zM1076.74,132.51h2.31v2.07h-2.31zM1081.37,132.51h2.31v2.07h-2.31zM1090.62,132.51h13.87v2.07h-13.87zM1109.12,132.51h2.31v2.07h-2.31zM1113.74,132.51h2.31v2.07h-2.31zM1118.36,132.51h2.31v2.07h-2.31zM1122.99,132.51h2.31v2.07h-2.31zM1127.61,132.51h2.31v2.07h-2.31zM1132.24,132.51h6.94v2.07h-6.94zM1141.49,132.51h2.31v2.07h-2.31zM1012.00,134.58h2.31v2.07h-2.31zM1025.87,134.58h2.31v2.07h-2.31zM1035.12,134.58h2.31v2.07h-2.31zM1042.06,134.58h6.94v2.07h-6.94zM1051.31,134.58h2.31v2.07h-2.31zM1055.93,134.58h2.31v2.07h-2.31zM1060.56,134.58h4.62v2.07h-4.62zM1067.49,134.58h6.94v2.07h-6.94zM1081.37,134.58h4.62v2.07h-4.62zM1090.62,134.58h2.31v2.07h-2.31zM1095.24,134.58h9.25v2.07h-9.25zM1106.80,134.58h2.31v2.07h-2.31zM1111.43,134.58h13.87v2.07h-13.87zM1132.24,134.58h6.94v2.07h-6.94zM1141.49,134.58h2.31v2.07h-2.31zM1012.00,136.65h2.31v2.07h-2.31zM1016.62,136.65h6.94v2.07h-6.94zM1025.87,136.65h2.31v2.07h-2.31zM1030.50,136.65h2.31v2.07h-2.31zM1035.12,136.65h2.31v2.07h-2.31zM1039.75,136.65h4.62v2.07h-4.62zM1062.87,136.65h6.94v2.07h-6.94zM1072.12,136.65h13.87v2.07h-13.87zM1090.62,136.65h2.31v2.07h-2.31zM1095.24,136.65h9.25v2.07h-9.25zM1111.43,136.65h2.31v2.07h-2.31zM1116.05,136.65h2.31v2.07h-2.31zM1122.99,136.65h11.56v2.07h-11.56zM1141.49,136.65h2.31v2.07h-2.31zM1012.00,138.72h2.31v2.07h-2.31zM1016.62,138.72h6.94v2.07h-6.94zM1025.87,138.72h2.31v2.07h-2.31zM1030.50,138.72h2.31v2.07h-2.31zM1037.44,138.72h2.31v2.07h-2.31zM1042.06,138.72h2.31v2.07h-2.31zM1046.68,138.72h2.31v2.07h-2.31zM1053.62,138.72h6.94v2.07h-6.94zM1072.12,138.72h4.62v2.07h-4.62zM1079.06,138.72h2.31v2.07h-2.31zM1090.62,138.72h4.62v2.07h-4.62zM1099.87,138.72h11.56v2.07h-11.56zM1116.05,138.72h6.94v2.07h-6.94zM1127.61,138.72h4.62v2.07h-4.62zM1136.86,138.72h2.31v2.07h-2.31zM1141.49,138.72h2.31v2.07h-2.31zM1012.00,140.79h2.31v2.07h-2.31zM1016.62,140.79h6.94v2.07h-6.94zM1025.87,140.79h2.31v2.07h-2.31zM1030.50,140.79h4.62v2.07h-4.62zM1037.44,140.79h6.94v2.07h-6.94zM1046.68,140.79h2.31v2.07h-2.31zM1053.62,140.79h4.62v2.07h-4.62zM1062.87,140.79h9.25v2.07h-9.25zM1074.43,140.79h4.62v2.07h-4.62zM1083.68,140.79h4.62v2.07h-4.62zM1092.93,140.79h2.31v2.07h-2.31zM1099.87,140.79h2.31v2.07h-2.31zM1104.49,140.79h4.62v2.07h-4.62zM1111.43,140.79h2.31v2.07h-2.31zM1116.05,140.79h2.31v2.07h-2.31zM1122.99,140.79h2.31v2.07h-2.31zM1127.61,140.79h4.62v2.07h-4.62zM1134.55,140.79h4.62v2.07h-4.62zM1141.49,140.79h2.31v2.07h-2.31zM1012.00,142.86h2.31v2.07h-2.31zM1025.87,142.86h2.31v2.07h-2.31zM1037.44,142.86h6.94v2.07h-6.94zM1046.68,142.86h4.62v2.07h-4.62zM1055.93,142.86h2.31v2.07h-2.31zM1062.87,142.86h4.62v2.07h-4.62zM1069.81,142.86h2.31v2.07h-2.31zM1081.37,142.86h4.62v2.07h-4.62zM1088.31,142.86h2.31v2.07h-2.31zM1092.93,142.86h9.25v2.07h-9.25zM1109.12,142.86h6.94v2.07h-6.94zM1122.99,142.86h6.94v2.07h-6.94zM1132.24,142.86h6.94v2.07h-6.94zM1141.49,142.86h2.31v2.07h-2.31zM1012.00,144.93h16.19v2.07h-16.19zM1032.81,144.93h4.62v2.07h-4.62zM1039.75,144.93h2.31v2.07h-2.31zM1049.00,144.93h2.31v2.07h-2.31zM1053.62,144.93h2.31v2.07h-2.31zM1058.25,144.93h4.62v2.07h-4.62zM1065.18,144.93h2.31v2.07h-2.31zM1069.81,144.93h2.31v2.07h-2.31zM1074.43,144.93h2.31v2.07h-2.31zM1083.68,144.93h2.31v2.07h-2.31zM1090.62,144.93h4.62v2.07h-4.62zM1097.55,144.93h2.31v2.07h-2.31zM1102.18,144.93h6.94v2.07h-6.94zM1113.74,144.93h2.31v2.07h-2.31zM1118.36,144.93h2.31v2.07h-2.31zM1125.30,144.93h4.62v2.07h-4.62zM1132.24,144.93h2.31v2.07h-2.31zM1136.86,144.93h4.62v2.07h-4.62z" fill="#0a0a0a" shape-rendering="crispEdges"/>
<rect x="41" y="189.8" width="140.3" height="101.80000000000001" rx="25.5" ry="25.5" fill="#d16628"/>
<rect x="197.5" y="189.8" width="144.8" height="101.80000000000001" rx="25.5" ry="25.5" fill="#d16628"/>
<rect x="359" y="189.8" width="404.79999999999995" height="101.80000000000001" rx="32" ry="32" fill="#d16628"/>
<rect x="782" y="189.8" width="414.5" height="101.80000000000001" rx="32" ry="32" fill="#d16628"/>
<rect x="403.6" y="234.6" width="8.5" height="16.4" fill="#fcd81c"/><rect x="412.1" y="235.9" width="9.3" height="15.0" fill="#fcd81c"/><rect x="395.1" y="244.0" width="34.8" height="13.4" fill="#fddc22"/><rect x="421.0" y="250.1" width="8.9" height="7.3" fill="#f9d21c"/><rect x="385.8" y="251.7" width="10.9" height="17.0" fill="#fddc22"/><rect x="396.7" y="256.2" width="42.1" height="12.6" fill="#fee23a"/><rect x="384.2" y="267.9" width="61.9" height="8.9" fill="#fee032"/><path d="M404.0,239.2H421.0" stroke="#eeb80e" stroke-width="0.5" opacity="0.45"/><path d="M404.0,243.6H421.0" stroke="#eeb80e" stroke-width="0.5" opacity="0.45"/><path d="M395.5,248.1H429.5" stroke="#eeb80e" stroke-width="0.5" opacity="0.45"/><path d="M395.5,252.5H429.5" stroke="#eeb80e" stroke-width="0.5" opacity="0.45"/><path d="M386.2,257.0H438.4" stroke="#eeb80e" stroke-width="0.5" opacity="0.45"/><path d="M386.2,261.4H438.4" stroke="#eeb80e" stroke-width="0.5" opacity="0.45"/><path d="M386.2,265.9H438.4" stroke="#eeb80e" stroke-width="0.5" opacity="0.45"/><path d="M384.6,272.4H445.7" stroke="#eeb80e" stroke-width="0.5" opacity="0.45"/><path d="M388.2,278.0 C387.4,263.9 394.3,256.6 400.4,253.3 L399.1,249.3 L405.6,248.9 L404.8,253.3 C412.1,257.4 417.8,267.1 417.0,278.4 C408.9,280.5 394.3,280.5 388.2,278.0Z" fill="#f1dcaa"/><ellipse cx="402.4" cy="252.1" rx="3.6" ry="1.6" fill="#e8a070"/><ellipse cx="402.6" cy="269.1" rx="7" ry="7.5" fill="#f6e8c4" opacity="0.7"/>
<g transform="translate(795.3,233.7) scale(0.95) translate(-795.3,-233.7)"><rect x="814.2" y="234.2" width="8.5" height="16.4" fill="#fcd81c"/><rect x="822.7" y="235.5" width="9.3" height="15.0" fill="#fcd81c"/><rect x="805.7" y="243.6" width="34.8" height="13.4" fill="#fddc22"/><rect x="831.6" y="249.7" width="8.9" height="7.3" fill="#f9d21c"/><rect x="796.4" y="251.3" width="10.9" height="17.0" fill="#fddc22"/><rect x="807.3" y="255.8" width="42.1" height="12.6" fill="#fee23a"/><rect x="794.8" y="267.5" width="61.9" height="8.9" fill="#fee032"/><path d="M814.6,238.8H831.6" stroke="#eeb80e" stroke-width="0.5" opacity="0.45"/><path d="M814.6,243.2H831.6" stroke="#eeb80e" stroke-width="0.5" opacity="0.45"/><path d="M806.1,247.7H840.1" stroke="#eeb80e" stroke-width="0.5" opacity="0.45"/><path d="M806.1,252.1H840.1" stroke="#eeb80e" stroke-width="0.5" opacity="0.45"/><path d="M796.8,256.6H849.0" stroke="#eeb80e" stroke-width="0.5" opacity="0.45"/><path d="M796.8,261.0H849.0" stroke="#eeb80e" stroke-width="0.5" opacity="0.45"/><path d="M796.8,265.5H849.0" stroke="#eeb80e" stroke-width="0.5" opacity="0.45"/><path d="M795.2,272.0H856.3" stroke="#eeb80e" stroke-width="0.5" opacity="0.45"/><path d="M798.8,277.6 C798.0,263.5 804.9,256.2 811.0,252.9 L809.7,248.9 L816.2,248.5 L815.4,252.9 C822.7,257.0 828.4,266.7 827.6,278.0 C819.5,280.1 804.9,280.1 798.8,277.6Z" fill="#f1dcaa"/><ellipse cx="813.0" cy="251.7" rx="3.6" ry="1.6" fill="#e8a070"/><ellipse cx="813.2" cy="268.7" rx="7" ry="7.5" fill="#f6e8c4" opacity="0.7"/></g>
<path d="M170.6,312.5l1.9,-3.4M202.6,302l3.2,-1.2" stroke="#7fc3b4" stroke-width="1.5" stroke-linecap="round"/>
<line x1="100.3" y1="669.5" x2="187.1" y2="647.8" stroke="#7b4a26" stroke-width="4.2"/>
<line x1="221.1" y1="627.2" x2="310.8" y2="602.3" stroke="#7b4a26" stroke-width="4.2"/>
<line x1="344.8" y1="594.9" x2="441.8" y2="620.7" stroke="#7b4a26" stroke-width="4.2"/>
<line x1="475.8" y1="647.4" x2="561.6" y2="682.1" stroke="#7b4a26" stroke-width="4.2"/>
<line x1="595.6" y1="696.4" x2="684.0" y2="667.7" stroke="#7b4a26" stroke-width="4.2"/>
<line x1="718.0" y1="655.6" x2="815.9" y2="604.5" stroke="#7b4a26" stroke-width="4.2"/>
<line x1="849.9" y1="587.3" x2="947.0" y2="571.3" stroke="#7b4a26" stroke-width="4.2"/>
<line x1="981.0" y1="558.4" x2="1080.0" y2="536.2" stroke="#7b4a26" stroke-width="4.2"/>
<use href="#coins" x="54.3" y="641.9"/>
<use href="#coins" x="175.1" y="601.4"/>
<use href="#coins" x="298.8" y="558.3"/>
<use href="#coins" x="429.8" y="598.8"/>
<use href="#coins" x="549.6" y="661"/>
<use href="#coins" x="672" y="627"/>
<use href="#coins" x="803.9" y="564"/>
<use href="#coins" x="935" y="530.1"/>
<g transform="translate(1040,480) scale(0.12955)"><polygon points="590.0,92.0 1115.0,158.0 935.0,465.0 540.0,400.0 540.0,200.0" fill="#8e9196" /><polygon points="625.0,128.0 1090.0,187.0 935.0,452.0 600.0,400.0" fill="#8a4a22" /><path d="M1112,158 C1185,225 1180,405 985,470 L935,462 Z" fill="#e9e9ec"/><path d="M1108,205 C1150,265 1140,380 1000,442 Z" fill="#8a4a22"/><path d="M1090,186 L1116,160 L962,468 L934,462 Z" fill="#e2e2e5"/><circle cx="1108" cy="222" r="7" fill="#9a9ca3"/><circle cx="1062" cy="300" r="7" fill="#9a9ca3"/><circle cx="1018" cy="372" r="7" fill="#9a9ca3"/><circle cx="976" cy="440" r="7" fill="#9a9ca3"/><path d="M600,135 C560,160 540,210 545,270 L600,275 C590,220 605,170 625,140 Z" fill="#7a3e1c"/><path d="M590,92 L625,128 C605,170 595,230 610,280 L540,250 C540,180 560,120 590,92Z" fill="none" stroke="#d8d8dc" stroke-width="12"/><polygon points="95.0,480.0 510.0,590.0 905.0,480.0 700.0,420.0 300.0,420.0" fill="#7f8790" /><polygon points="95.0,480.0 510.0,590.0 520.0,655.0 115.0,560.0" fill="#b9bcc2" /><polygon points="115.0,560.0 520.0,650.0 540.0,830.0 150.0,730.0" fill="#8a4a22" /><polygon points="150.0,730.0 540.0,830.0 545.0,872.0 155.0,772.0" fill="#b4b6bb" /><polygon points="625.0,585.0 905.0,480.0 900.0,560.0 635.0,645.0" fill="#a6a9b0" /><polygon points="635.0,640.0 880.0,565.0 880.0,742.0 640.0,832.0" fill="#7c3f1c" /><polygon points="640.0,830.0 880.0,740.0 885.0,790.0 650.0,880.0" fill="#9a9ca2" /><polygon points="880.0,485.0 925.0,472.0 920.0,742.0 885.0,748.0" fill="#d6d6da" /><polygon points="505.0,590.0 628.0,582.0 642.0,852.0 545.0,855.0" fill="#e6e6e9" /><polygon points="520.0,860.0 650.0,840.0 690.0,920.0 600.0,975.0 510.0,940.0" fill="#ededf0" /><polygon points="600.0,975.0 690.0,920.0 650.0,840.0 640.0,850.0 655.0,915.0" fill="#c4c5ca" /><polygon points="100.0,730.0 150.0,725.0 160.0,800.0 130.0,812.0 78.0,795.0" fill="#c9cace" /><polygon points="880.0,745.0 930.0,735.0 955.0,795.0 910.0,820.0 885.0,800.0" fill="#c9cace" /><path d="M243,562 L350,590 L350,622 C335,652 280,650 258,612 Z" fill="#d9dade"/><circle cx="291" cy="588" r="10" fill="#4a4a50"/><path d="M286,590 h10 l3,26 h-16z" fill="#4a4a50"/><path d="M305,175 L305,350 A110,38 0 0 0 525,350 L525,175 Z" fill="url(#cs)"/><path d="M305,197 A110,38 0 0 0 525,197" fill="none" stroke="#c99a10" stroke-width="5" opacity="0.6"/><path d="M305,223 A110,38 0 0 0 525,223" fill="none" stroke="#c99a10" stroke-width="5" opacity="0.6"/><path d="M305,249 A110,38 0 0 0 525,249" fill="none" stroke="#c99a10" stroke-width="5" opacity="0.6"/><path d="M305,275 A110,38 0 0 0 525,275" fill="none" stroke="#c99a10" stroke-width="5" opacity="0.6"/><path d="M305,301 A110,38 0 0 0 525,301" fill="none" stroke="#c99a10" stroke-width="5" opacity="0.6"/><path d="M305,327 A110,38 0 0 0 525,327" fill="none" stroke="#c99a10" stroke-width="5" opacity="0.6"/><ellipse cx="415" cy="175" rx="110" ry="38" fill="url(#ct)"/><path d="M132,265 L132,430 A108,36 0 0 0 348,430 L348,265 Z" fill="url(#cs)"/><path d="M132,287 A108,36 0 0 0 348,287" fill="none" stroke="#c99a10" stroke-width="5" opacity="0.6"/><path d="M132,313 A108,36 0 0 0 348,313" fill="none" stroke="#c99a10" stroke-width="5" opacity="0.6"/><path d="M132,339 A108,36 0 0 0 348,339" fill="none" stroke="#c99a10" stroke-width="5" opacity="0.6"/><path d="M132,365 A108,36 0 0 0 348,365" fill="none" stroke="#c99a10" stroke-width="5" opacity="0.6"/><path d="M132,391 A108,36 0 0 0 348,391" fill="none" stroke="#c99a10" stroke-width="5" opacity="0.6"/><path d="M132,417 A108,36 0 0 0 348,417" fill="none" stroke="#c99a10" stroke-width="5" opacity="0.6"/><ellipse cx="240" cy="265" rx="108" ry="36" fill="url(#ct)"/><path d="M533,310 L533,450 A92,31 0 0 0 717,450 L717,310 Z" fill="url(#cs)"/><path d="M533,332 A92,31 0 0 0 717,332" fill="none" stroke="#c99a10" stroke-width="5" opacity="0.6"/><path d="M533,358 A92,31 0 0 0 717,358" fill="none" stroke="#c99a10" stroke-width="5" opacity="0.6"/><path d="M533,384 A92,31 0 0 0 717,384" fill="none" stroke="#c99a10" stroke-width="5" opacity="0.6"/><path d="M533,410 A92,31 0 0 0 717,410" fill="none" stroke="#c99a10" stroke-width="5" opacity="0.6"/><path d="M533,436 A92,31 0 0 0 717,436" fill="none" stroke="#c99a10" stroke-width="5" opacity="0.6"/><ellipse cx="625" cy="310" rx="92" ry="31" fill="url(#ct)"/><path d="M408,385 L408,510 A82,28 0 0 0 572,510 L572,385 Z" fill="url(#cs)"/><path d="M408,407 A82,28 0 0 0 572,407" fill="none" stroke="#c99a10" stroke-width="5" opacity="0.6"/><path d="M408,433 A82,28 0 0 0 572,433" fill="none" stroke="#c99a10" stroke-width="5" opacity="0.6"/><path d="M408,459 A82,28 0 0 0 572,459" fill="none" stroke="#c99a10" stroke-width="5" opacity="0.6"/><path d="M408,485 A82,28 0 0 0 572,485" fill="none" stroke="#c99a10" stroke-width="5" opacity="0.6"/><ellipse cx="490" cy="385" rx="82" ry="28" fill="url(#ct)"/><path d="M608,480 L608,540 A82,28 0 0 0 772,540 L772,480 Z" fill="url(#cs)"/><path d="M608,502 A82,28 0 0 0 772,502" fill="none" stroke="#c99a10" stroke-width="5" opacity="0.6"/><path d="M608,528 A82,28 0 0 0 772,528" fill="none" stroke="#c99a10" stroke-width="5" opacity="0.6"/><ellipse cx="690" cy="480" rx="82" ry="28" fill="url(#ct)"/><path d="M200,490 L200,505 A105,34 0 0 0 410,505 L410,490 Z" fill="url(#cs)"/><ellipse cx="305" cy="490" rx="105" ry="34" fill="url(#ct)"/><g transform="rotate(-32 325 410)"><ellipse cx="330" cy="418" rx="88" ry="62" fill="#f7d61e"/><ellipse cx="322" cy="406" rx="82" ry="56" fill="#e3b51a"/></g><path d="M460,555 L460,568 A85,28 0 0 0 630,568 L630,555 Z" fill="url(#cs)"/><ellipse cx="545" cy="555" rx="85" ry="28" fill="url(#ct)"/><g transform="rotate(-35 555 495)"><ellipse cx="558" cy="500" rx="68" ry="50" fill="#f7d61e"/><ellipse cx="552" cy="492" rx="62" ry="45" fill="#e3b51a"/></g><polygon points="95.0,480.0 200.0,508.0 205.0,520.0 510.0,590.0 628.0,582.0 905.0,480.0 900.0,500.0 625.0,600.0 510.0,610.0 100.0,500.0" fill="#c2c4ca" /><path d="M200,490 L200,505 A105,34 0 0 0 410,505 L410,490 Z" fill="url(#cs)"/><ellipse cx="305" cy="490" rx="105" ry="34" fill="url(#ct)"/><g transform="rotate(-32 325 410)"><ellipse cx="330" cy="418" rx="88" ry="62" fill="#f7d61e"/><ellipse cx="322" cy="406" rx="82" ry="56" fill="#e3b51a"/></g><path d="M460,555 L460,568 A85,28 0 0 0 630,568 L630,555 Z" fill="url(#cs)"/><ellipse cx="545" cy="555" rx="85" ry="28" fill="url(#ct)"/><g transform="rotate(-35 555 495)"><ellipse cx="558" cy="500" rx="68" ry="50" fill="#f7d61e"/><ellipse cx="552" cy="492" rx="62" ry="45" fill="#e3b51a"/></g><path d="M608,480 L608,535 A82,28 0 0 0 772,535 L772,480 Z" fill="url(#cs)"/><path d="M608,502 A82,28 0 0 0 772,502" fill="none" stroke="#c99a10" stroke-width="5" opacity="0.6"/><path d="M608,528 A82,28 0 0 0 772,528" fill="none" stroke="#c99a10" stroke-width="5" opacity="0.6"/><ellipse cx="690" cy="480" rx="82" ry="28" fill="url(#ct)"/></g>
<line x1="39.5" y1="738.3" x2="1186" y2="738.3" stroke="#c99b6c" stroke-width="2.2" stroke-linecap="round"/>
<rect x="61.7" y="1065.9" width="74.8" height="44.7" fill="#eb481d" filter="url(#tex)"/>
<rect x="162.3" y="1058.6" width="75.4" height="52.0" fill="#eb481d" filter="url(#tex)"/>
<rect x="261.7" y="1072.6" width="74.9" height="38.0" fill="#eb481d" filter="url(#tex)"/>
<rect x="363.9" y="1021.0" width="74.8" height="89.6" fill="#eb481d" filter="url(#tex)"/>
<rect x="455.7" y="1046.0" width="75.2" height="64.6" fill="#eb481d" filter="url(#tex)"/>
<line x1="47.5" y1="1111.5" x2="538.2" y2="1111.5" stroke="#3b3b3b" stroke-width="1.8"/>
<rect x="705.1" y="1055.7" width="75.0" height="52.8" fill="#eb481d" filter="url(#tex)"/>
<rect x="804.2" y="1110.5" width="75.6" height="16.2" fill="#eb481d" filter="url(#tex)"/>
<rect x="906.3" y="1110.5" width="74.8" height="10.3" fill="#eb481d" filter="url(#tex)"/>
<rect x="1009.1" y="1092.0" width="75.2" height="16.5" fill="#eb481d" filter="url(#tex)"/>
<rect x="1107.9" y="944.4" width="75.4" height="164.1" fill="#eb481d" filter="url(#tex)"/>
<line x1="695" y1="1109.7" x2="1186" y2="1109.7" stroke="#3b3b3b" stroke-width="1.8"/>
<line x1="45" y1="1272.8" x2="1188.5" y2="1272.8" stroke="#3a9a5e" stroke-width="2" stroke-linecap="round"/>
<rect x="0" y="1626.5" width="1235" height="115.5" fill="#d06526"/>
<circle cx="92.2" cy="1174.3" r="23.9" fill="#f7941d" stroke="#2a1c12" stroke-width="2.5"/>
<circle cx="196.2" cy="1174" r="23.9" fill="#f7941d" stroke="#2a1c12" stroke-width="2.5"/>
<circle cx="304.8" cy="1175.4" r="23.9" fill="#f7941d" stroke="#2a1c12" stroke-width="2.5"/>
<circle cx="400" cy="1175.9" r="23.9" fill="#f7941d" stroke="#2a1c12" stroke-width="2.5"/>
<circle cx="499.3" cy="1174.8" r="23.9" fill="#f7941d" stroke="#2a1c12" stroke-width="2.5"/>
<circle cx="738" cy="1180.6" r="23.9" fill="#f7941d" stroke="#2a1c12" stroke-width="2.5"/>
<circle cx="841.8" cy="1181.2" r="23.9" fill="#f7941d" stroke="#2a1c12" stroke-width="2.5"/>
<circle cx="940.4" cy="1181" r="23.9" fill="#f7941d" stroke="#2a1c12" stroke-width="2.5"/>
<circle cx="1039.7" cy="1179.4" r="23.9" fill="#f7941d" stroke="#2a1c12" stroke-width="2.5"/>
<circle cx="1143.1" cy="1179.5" r="23.9" fill="#f7941d" stroke="#2a1c12" stroke-width="2.5"/>
<g transform="translate(92.2,1174.3)"><path d="M-15,6h34v7h-34z" fill="#6d6e71"/><path d="M-14,5l2,-8h8l2,8z" fill="#808285"/><path d="M-9,-1l3,-10h5l3,10z" fill="#e6e7e8"/><path d="M2,-2h11v8h-11z" fill="#808285"/><path d="M4,-12h1.6v10h-1.6zM7.2,-12h1.6v10h-1.6zM10.4,-12h1.6v10h-1.6z" fill="#a97c50"/><path d="M-16,-8c2,-3 5,-2 6,1c-2,2 -4,3 -6,-1zM-9,-15c3,-3 8,-1 7,3c-3,2 -6,1 -7,-3z" fill="#fce3b8"/><path d="M-13,8h2v2h-2zM-9,8h2v2h-2zM-5,8h2v2h-2zM-1,8h2v2h-2zM3,8h2v2h-2zM7,8h2v2h-2zM11,8h2v2h-2zM15,8h2v2h-2z" fill="#d1d3d4"/></g>
<g transform="translate(196.2,1174)"><path d="M-14,-8l3,-8h22l3,8v3h-28z" fill="#939598"/><path d="M-7,-16h6v12a3,3 0 0 1 -6,0zM3,-16h6l1,12a3,3 0 0 1 -6,0z" fill="#58595b"/><path d="M-13,-4h26v19h-26z" fill="#808285"/><path d="M-11,1h14v9h-14z" fill="#bcbec0"/><path d="M5,1h6v5h-6z" fill="#bcbec0"/><path d="M5,7h6v8h-6z" fill="#6d6e71"/><path d="M-15,14h30v2h-30z" fill="#6d6e71"/></g>
<g transform="translate(304.8,1175.4)"><path d="M-10,-3.2 a9.4,10.6 0 0 1 18.8,0 z" fill="#6d6e71"/><rect x="-2.6" y="-15.2" width="5.2" height="8" rx="2.4" fill="#6d6e71"/><rect x="-10.9" y="-4.4" width="20.8" height="2.5" rx="1" fill="#6d6e71"/><path d="M-5.2,-11.500 l1,6 M4.200,-11.500 l-1,6" stroke="#f7941d" stroke-width="0.9"/><path d="M-9.300,-1.800 a8.700,9.200 0 0 0 17.400,0" fill="#f7941d" stroke="#6d6e71" stroke-width="1.3"/><circle cx="-3.600" cy="0.400" r="1.050" fill="#6d6e71"/><circle cx="2.200" cy="0.400" r="1.050" fill="#6d6e71"/><g fill="none" stroke="#6d6e71" stroke-linecap="round"><path d="M-14.500,6.800 L-6.500,14" stroke-width="3.100"/><path d="M13.500,6.800 L5.500,14" stroke-width="3.100"/><path d="M-19.600,4.200 a3.300,3.300 0 1 0 4.400,-3.600" stroke-width="2.300"/><path d="M18.600,4.200 a3.300,3.300 0 1 1 -4.400,-3.600" stroke-width="2.300"/></g></g>
<g transform="translate(400,1175.9)"><g fill="none" stroke="#2a1c12" stroke-width="1.300"><ellipse cx="-10.300" cy="-7.600" rx="8.200" ry="6.600"/><ellipse cx="10.300" cy="-7.600" rx="8.200" ry="6.600"/><ellipse cx="-10.300" cy="8.200" rx="8.200" ry="6.600"/><ellipse cx="10.300" cy="8.200" rx="8.200" ry="6.600"/></g><path d="M-5.500,-4.500 h11 v10 h-11z" fill="#f7941d"/><g fill="none" stroke="#2a1c12" stroke-width="1.250" stroke-linecap="round"><path d="M-12.800,-11.500 l-1.400,7.600 M-7.800,-11.500 l1.400,7.600 M-10.300,-11.500 v1.800 M-10.300,-8 v1.800 M-10.300,-5 v1.200"/><path d="M7.600,-11.800 h5.400 v5.600 h-5.400z M7.600,-9 h5.400 M8.200,-6.200 l-1.200,2.400 M12.400,-6.200 l1.200,2.400 M6.600,-3.800 h7.400"/><path d="M-15.200,8.600 h9.800 l-1.600,2.600 h-6.600z M-13,8.600 v-2.200 h4 l1.500,2.200 M-15.600,13 h10.600"/><path d="M7.200,5 h6.200 v5.400 h-6.200z M7.200,7.600 h6.200 M6,10.400 h8.600 M8.200,10.400 v1.800 M12.400,10.400 v1.800"/></g><path d="M-4,5.600 v-5.200 h8 v5.200 M-5,0.400 h10 M-3.200,0.400 l3.200,-3.400 l3.200,3.400 M0,-3 v-2 M-1.500,5.600 v-3 h3 v3" fill="none" stroke="#2a1c12" stroke-width="1.200"/></g>
<g transform="translate(738,1180.6)"><path d="M-15,-9h22l2,-4h4" fill="none" stroke="#939598" stroke-width="1.3"/><path d="M-14,-8h21l-3,12h-15z" fill="#a7a9ac"/><path d="M-12,-6h4v4h-4zM-6,-7h4v5h-4zM0,-6h4v4h-4zM-11,0h4v3h-4zM-5,-1h5v4h-5z" fill="#e6e7e8"/><path d="M-11,4l-4,6M4,4l6,5" stroke="#939598" stroke-width="1.2" fill="none"/><circle cx="-14" cy="11" r="2" fill="none" stroke="#6d6e71" stroke-width="1.2"/><circle cx="9" cy="11" r="2" fill="none" stroke="#6d6e71" stroke-width="1.2"/></g>
<g transform="translate(841.8,1181.2)"><path d="M-13.600,4.500 L-7.700,1.600 L-1.900,3.100 L3.900,5.200 L12.700,2.600 C14.500,2.600 15,4 14,5 L3.900,11.800 L-0.400,13.300 L-10.600,9.600 L-13.600,8.900 Z" fill="none" stroke="#808285" stroke-width="1.300" stroke-linejoin="round"/><path d="M-2,5.600 l5.500,1.400" stroke="#808285" stroke-width="1.200" fill="none"/><circle cx="-0.700" cy="-3.500" r="4.500" fill="#77787b"/><path d="M-1.500,-6 l3,0.500 l1.500,2.500 l-2,2 l-2.500,-1.500z" fill="#f7a63f"/><circle cx="-4.300" cy="-10.400" r="1.500" fill="#808285"/><circle cx="-0.700" cy="-11.400" r="1.500" fill="#808285"/><circle cx="2.900" cy="-10.400" r="1.500" fill="#808285"/><path d="M-6.600,-6.500 a3,3 0 0 1 3,-2.500 M-3,-7.600 a3,3 0 0 1 4.600,0 M1.600,-9 a3,3 0 0 1 3.200,2.500" fill="none" stroke="#808285" stroke-width="1.200"/></g>
<g transform="translate(940.4,1181)"><path d="M-13,-7l13,-8l13,8v2h-26z" fill="#808285"/><path d="M-11,-4h3v12h-3zM-6,-4h3v12h-3zM-1.500,-4h3v12h-3zM3,-4h3v12h-3zM8,-4h3v12h-3z" fill="#808285"/><path d="M-13,8h26v2h-26zM-15,11h30v2.400h-30z" fill="#808285"/></g>
<g transform="translate(1039.7,1179.4)"><path d="M-7,-15h11v9h-11z" fill="#d1d3d4"/><path d="M-5.500,-13h3.500v7h-3.500zM-0.500,-13h3v7h-3z" fill="#f7a63f"/><path d="M-12,-6h24v10h-24z" fill="#808285"/><path d="M8,-11h1.500v5h-1.500z" fill="#808285"/><circle cx="-7" cy="4" r="7.500" fill="#6d6e71"/><circle cx="-7" cy="4" r="4" fill="#939598"/><circle cx="9" cy="7" r="4.800" fill="#6d6e71"/><circle cx="9" cy="7" r="2.300" fill="#a7a9ac"/></g>
<g transform="translate(1143.1,1179.5)"><path d="M-16,-2l10,-5l10,4v12l-10,5l-10,-4z" fill="#808285"/><path d="M-14,0l8,-3v9l-8,3z" fill="#58595b"/><path d="M4,-5l6,-4l8,4v11l-7,5l-7,-4z" fill="#a7a9ac"/><path d="M4,-4l7,3v12l-7,-4z" fill="#939598"/><path d="M-7,-17v9M6,-17v9" stroke="#6d6e71" stroke-width="1.2"/><path d="M-9,-14h4M4,-13h4" stroke="#6d6e71" stroke-width="2"/><path d="M-15,10l9,4l10,-5" fill="none" stroke="#bcbec0" stroke-width="1.5"/></g>
<g>
<path d="M545.9,1393.4C546.1,1391.8 547.0,1387.3 547.5,1385.3C548.1,1383.2 549.9,1377.8 550.8,1375.5C551.6,1373.3 553.9,1367.9 554.8,1365.8C555.8,1363.8 557.9,1359.8 558.9,1357.7C559.8,1355.7 562.2,1349.6 562.9,1348.0C563.7,1346.4 564.3,1344.9 565.3,1344.0C566.4,1343.0 569.9,1340.6 571.8,1339.9C573.7,1339.3 579.6,1338.6 581.5,1338.3C583.4,1338.0 585.7,1338.0 588.0,1337.5C590.3,1337.0 598.3,1333.1 601.0,1333.8C603.6,1334.4 608.0,1342.9 610.7,1343.2C613.3,1343.4 621.4,1337.8 623.6,1335.9C625.9,1333.9 628.8,1327.8 630.1,1326.6C631.4,1325.4 633.5,1325.6 635.0,1325.7C636.5,1325.7 641.6,1326.4 643.1,1327.0C644.6,1327.5 647.2,1329.7 647.9,1330.2C648.7,1330.7 647.9,1331.6 649.6,1331.5C651.3,1331.4 659.8,1329.7 662.5,1329.4C665.2,1329.1 671.5,1329.1 673.0,1328.6C674.5,1328.1 674.6,1327.0 675.5,1325.3C676.3,1323.7 679.2,1316.4 680.3,1314.8C681.5,1313.2 684.1,1311.9 685.2,1311.6C686.3,1311.2 688.2,1311.5 689.7,1311.9C691.2,1312.3 695.9,1314.3 697.8,1315.1C699.7,1315.9 704.2,1317.9 705.9,1318.3C707.6,1318.8 711.3,1319.4 712.4,1319.1C713.5,1318.9 715.0,1316.7 715.6,1315.9C716.3,1315.2 717.6,1312.5 718.1,1312.7C718.5,1312.9 719.0,1317.2 719.7,1317.5C720.3,1317.9 722.8,1315.8 723.7,1315.9C724.7,1316.0 727.0,1317.4 727.8,1318.3C728.5,1319.3 729.5,1322.7 730.2,1324.0C730.9,1325.3 733.6,1328.8 733.4,1329.7C733.3,1330.5 729.9,1330.8 728.6,1331.3C727.3,1331.8 723.4,1333.0 722.1,1333.7C720.8,1334.5 718.3,1336.7 717.2,1337.8C716.2,1338.8 713.3,1341.5 713.2,1342.6C713.1,1343.8 715.9,1346.2 716.4,1347.5C717.0,1348.8 717.3,1352.6 718.1,1354.0C718.8,1355.4 722.0,1358.8 722.9,1359.6C723.9,1360.5 725.5,1360.3 726.2,1361.3C726.8,1362.2 728.1,1366.4 728.6,1367.7C729.1,1369.1 730.4,1371.5 730.2,1372.6C730.0,1373.7 727.5,1376.2 727.0,1377.4C726.4,1378.7 725.8,1382.2 725.3,1383.1C724.9,1384.1 722.7,1384.9 722.9,1385.5C723.1,1386.2 726.3,1387.5 727.0,1388.8C727.6,1390.1 728.2,1395.0 728.6,1396.9C729.0,1398.8 729.8,1403.3 730.2,1405.0C730.6,1406.7 731.8,1409.9 731.8,1411.5C731.8,1413.0 732.5,1416.4 730.2,1417.9C727.9,1419.4 721.1,1424.6 712.4,1424.4C703.6,1424.2 666.3,1417.6 655.2,1416.0C644.1,1414.5 627.3,1411.7 617.2,1411.2C607.1,1410.6 576.7,1411.9 568.6,1411.2C560.5,1410.4 550.2,1406.2 547.5,1404.7C544.8,1403.2 545.8,1399.5 545.6,1398.2C545.4,1396.9 545.7,1394.9 545.9,1393.4Z" fill="#f08130" />
<path d="M615.5,1290.5C617.2,1289.1 620.4,1289.6 622.8,1290.0C625.3,1290.5 625.7,1291.6 627.7,1293.0C629.6,1294.3 631.1,1295.1 632.6,1297.0C634.0,1298.9 634.7,1299.9 635.0,1302.7C635.3,1305.4 634.8,1307.9 634.2,1310.8C633.5,1313.7 633.2,1315.6 631.7,1317.2C630.3,1318.9 628.7,1318.9 626.9,1318.9C625.1,1318.9 624.0,1318.7 622.8,1317.2C621.7,1315.8 622.3,1313.5 621.2,1311.6C620.1,1309.6 618.6,1309.1 617.2,1307.5C615.7,1305.9 614.4,1305.6 613.9,1303.5C613.4,1301.4 614.4,1299.6 614.7,1297.0C615.1,1294.4 613.9,1291.9 615.5,1290.5Z" fill="#f08130" stroke="#f6d2b4" stroke-width="0.6" stroke-linejoin="round" />
<path d="M577.5,1334.3C577.6,1333.3 580.3,1332.2 582.3,1331.0C584.4,1329.8 587.3,1328.3 589.6,1327.0C591.9,1325.6 594.4,1324.4 596.1,1322.9C597.9,1321.4 599.1,1319.9 600.2,1318.1C601.2,1316.2 602.3,1313.9 602.6,1311.6C602.9,1309.3 602.1,1306.2 601.8,1304.3C601.5,1302.4 600.4,1301.7 601.0,1300.2C601.5,1298.8 603.7,1296.8 605.0,1295.4C606.4,1294.0 607.7,1292.2 609.1,1291.7C610.4,1291.1 612.3,1291.1 613.1,1292.1C613.9,1293.2 613.9,1295.9 613.9,1297.8C613.9,1299.7 612.6,1301.7 613.1,1303.5C613.7,1305.2 616.0,1306.9 617.2,1308.3C618.4,1309.8 619.6,1310.6 620.4,1312.4C621.2,1314.1 621.1,1317.2 622.0,1318.9C623.0,1320.5 625.0,1320.8 626.1,1322.1C627.2,1323.5 628.2,1325.3 628.5,1327.0C628.8,1328.6 628.5,1330.5 627.7,1331.8C626.9,1333.2 624.9,1334.0 623.6,1335.1C622.4,1336.1 621.5,1337.1 620.4,1338.3C619.3,1339.5 618.8,1341.5 617.2,1342.3C615.5,1343.2 612.2,1343.8 610.7,1343.2C609.2,1342.5 608.8,1339.8 608.3,1338.3C607.7,1336.8 608.7,1335.1 607.4,1334.3C606.2,1333.4 603.1,1333.3 601.0,1333.4C598.8,1333.6 596.7,1334.4 594.5,1335.1C592.3,1335.7 590.2,1337.2 588.0,1337.5C585.9,1337.8 583.3,1337.2 581.5,1336.7C579.8,1336.1 577.4,1335.2 577.5,1334.3Z" fill="#a9a9a9" stroke="#f6d2b4" stroke-width="0.9" stroke-linejoin="round" />
<path d="M649.6,1331.5C650.9,1330.2 660.2,1329.7 662.5,1329.4C664.9,1329.1 671.9,1327.9 673.0,1328.6C674.2,1329.3 673.7,1334.7 673.8,1336.7C674.0,1338.6 674.3,1346.1 674.7,1348.0C675.0,1350.0 676.4,1354.7 677.1,1356.1C677.8,1357.6 681.2,1361.5 681.9,1362.6C682.7,1363.6 684.4,1365.8 684.4,1366.6C684.4,1367.4 682.7,1370.0 681.9,1370.7C681.2,1371.4 677.7,1373.2 677.1,1373.9C676.4,1374.7 676.3,1377.3 675.5,1378.0C674.7,1378.6 670.1,1379.8 669.0,1380.4C667.9,1381.1 665.6,1384.1 664.1,1384.5C662.7,1384.8 656.0,1384.0 654.4,1383.6C652.8,1383.2 648.7,1381.1 647.9,1380.4C647.1,1379.7 646.2,1377.2 646.3,1376.4C646.5,1375.5 650.2,1372.7 649.6,1372.3C648.9,1371.9 641.6,1372.1 639.8,1372.3C638.1,1372.5 633.3,1373.8 631.7,1373.9C630.2,1374.1 625.3,1374.5 624.5,1373.9C623.6,1373.4 623.5,1369.7 623.6,1368.3C623.8,1366.8 625.1,1360.6 626.1,1359.4C627.0,1358.1 632.1,1357.1 633.4,1356.1C634.6,1355.1 637.2,1350.6 638.2,1349.6C639.2,1348.7 642.0,1347.1 643.1,1346.4C644.1,1345.7 648.1,1343.8 648.7,1342.3C649.4,1340.9 648.2,1332.8 649.6,1331.5Z" fill="#b145a8" stroke="#f7c9c0" stroke-width="1.0" stroke-linejoin="round" />
<path d="M713.2,1342.6C713.3,1341.3 716.1,1339.0 717.2,1337.8C718.4,1336.6 720.6,1334.6 722.1,1333.7C723.6,1332.9 726.6,1331.6 728.6,1331.3C730.5,1331.0 734.5,1331.1 736.7,1331.3C738.8,1331.5 742.6,1332.4 744.8,1332.9C746.9,1333.5 750.9,1334.8 752.9,1335.3C754.8,1335.9 757.4,1337.1 759.4,1337.0C761.3,1336.9 765.5,1335.5 767.4,1334.5C769.4,1333.6 772.6,1330.6 773.9,1329.7C775.2,1328.7 776.1,1327.5 777.2,1327.6C778.2,1327.7 780.1,1329.9 782.0,1330.5C784.0,1331.1 789.4,1332.1 791.7,1332.1C794.1,1332.1 797.9,1331.1 799.8,1330.5C801.8,1329.9 804.6,1328.2 806.3,1327.6C808.0,1327.0 811.3,1325.8 812.8,1326.0C814.3,1326.1 816.1,1328.2 817.7,1328.5C819.2,1328.9 822.4,1328.2 824.1,1328.5C825.9,1328.9 829.2,1330.5 830.6,1331.3C832.0,1332.1 834.2,1333.3 834.7,1334.5C835.1,1335.7 833.5,1338.6 833.8,1340.2C834.2,1341.8 836.9,1345.5 837.1,1346.7C837.3,1347.9 836.8,1348.5 835.5,1349.1C834.2,1349.8 829.3,1350.9 827.4,1351.5C825.4,1352.2 822.6,1353.5 820.9,1354.0C819.2,1354.4 815.9,1354.3 814.4,1354.8C812.9,1355.2 810.9,1356.6 809.6,1357.2C808.3,1357.9 805.7,1358.7 804.7,1359.6C803.7,1360.6 803.3,1363.4 802.3,1364.5C801.2,1365.6 798.0,1366.8 796.6,1367.7C795.2,1368.7 793.3,1370.8 791.7,1371.8C790.2,1372.8 786.6,1374.2 785.3,1375.0C784.0,1375.9 782.0,1377.2 782.0,1378.3C782.0,1379.3 783.8,1382.1 785.3,1383.1C786.8,1384.1 791.6,1385.4 793.4,1385.5C795.1,1385.7 796.9,1383.7 798.2,1383.9C799.5,1384.1 801.3,1386.4 803.1,1387.2C804.8,1387.9 809.8,1388.5 811.2,1389.6C812.6,1390.7 813.1,1393.4 813.6,1395.3C814.1,1397.1 814.8,1401.4 815.2,1403.4C815.7,1405.3 816.7,1407.9 816.8,1409.8C817.0,1411.8 816.0,1416.3 816.0,1417.9C816.0,1419.6 817.0,1420.9 816.8,1422.0C816.7,1423.1 816.4,1425.4 815.2,1426.0C814.0,1426.7 810.0,1426.7 807.9,1426.8C805.9,1427.0 801.6,1427.2 799.8,1426.8C798.1,1426.5 796.5,1425.2 795.0,1424.4C793.5,1423.7 790.4,1421.8 788.5,1421.2C786.6,1420.5 782.3,1420.1 780.4,1419.6C778.5,1419.0 775.2,1417.3 773.9,1417.1C772.6,1416.9 770.7,1417.3 770.7,1417.9C770.7,1418.6 774.1,1421.3 773.9,1422.0C773.7,1422.6 770.4,1422.5 769.1,1422.8C767.8,1423.1 765.3,1424.4 764.2,1424.4C763.1,1424.4 761.5,1424.1 761.0,1422.8C760.4,1421.5 760.6,1416.2 760.2,1414.7C759.7,1413.2 758.7,1411.8 757.7,1411.5C756.8,1411.1 754.2,1411.6 752.9,1412.3C751.6,1412.9 749.2,1415.3 748.0,1416.3C746.8,1417.3 744.8,1418.8 744.0,1419.6C743.1,1420.3 742.5,1421.8 741.5,1422.0C740.6,1422.2 737.8,1421.7 736.7,1421.2C735.6,1420.6 734.1,1419.2 733.4,1417.9C732.8,1416.6 732.3,1413.2 731.8,1411.5C731.4,1409.7 730.6,1406.9 730.2,1405.0C729.8,1403.0 729.0,1399.0 728.6,1396.9C728.2,1394.7 727.7,1390.3 727.0,1388.8C726.2,1387.3 723.1,1386.3 722.9,1385.5C722.7,1384.8 724.8,1384.2 725.3,1383.1C725.9,1382.0 726.3,1378.9 727.0,1377.4C727.6,1376.0 730.0,1373.9 730.2,1372.6C730.4,1371.3 729.1,1369.2 728.6,1367.7C728.0,1366.2 726.9,1362.3 726.2,1361.3C725.4,1360.2 724.0,1360.6 722.9,1359.6C721.8,1358.7 718.9,1355.6 718.1,1354.0C717.2,1352.3 717.1,1349.0 716.4,1347.5C715.8,1346.0 713.1,1343.9 713.2,1342.6Z" fill="#2a86c9" />
<path d="M782.0,1378.3C782.0,1377.3 784.1,1375.8 785.3,1375.0C786.4,1374.3 790.4,1372.6 791.7,1371.8C793.1,1370.9 795.4,1368.6 796.6,1367.7C797.8,1366.9 801.3,1365.4 802.3,1364.5C803.2,1363.5 803.8,1360.5 804.7,1359.6C805.5,1358.8 808.4,1357.8 809.6,1357.2C810.7,1356.6 813.1,1355.2 814.4,1354.8C815.7,1354.4 819.5,1354.3 820.9,1354.0C822.3,1353.7 825.8,1351.9 826.6,1352.3C827.4,1352.8 827.6,1356.4 827.7,1358.0C827.8,1359.6 827.2,1364.4 827.4,1366.1C827.5,1367.8 828.3,1371.3 829.0,1372.6C829.6,1373.9 832.0,1376.4 833.0,1377.4C834.1,1378.5 837.4,1380.5 837.9,1381.5C838.4,1382.5 836.7,1385.5 837.1,1386.4C837.5,1387.2 840.2,1388.3 841.1,1388.8C842.1,1389.3 844.7,1389.7 845.2,1390.4C845.7,1391.1 847.1,1393.9 845.5,1394.5C843.9,1395.0 833.4,1395.6 831.4,1395.3C829.4,1394.9 828.8,1391.9 828.2,1391.2C827.5,1390.5 827.7,1389.3 825.7,1389.1C823.8,1388.9 813.8,1389.8 811.2,1389.6C808.5,1389.4 804.6,1387.8 803.1,1387.2C801.6,1386.5 799.4,1384.1 798.2,1383.9C797.1,1383.7 794.9,1385.6 793.4,1385.5C791.8,1385.5 786.6,1384.0 785.3,1383.1C783.9,1382.3 782.0,1379.2 782.0,1378.3Z" fill="#a0cd39" stroke="#b9e0a0" stroke-width="0.8" stroke-linejoin="round" />
<path d="M813.6,1390.4C814.8,1388.8 824.0,1389.3 825.7,1389.4C827.4,1389.5 827.5,1390.5 828.2,1391.2C828.8,1391.9 829.4,1395.2 831.4,1395.6C833.4,1396.0 843.6,1394.4 845.5,1394.9C847.4,1395.5 846.9,1398.8 847.6,1400.1C848.3,1401.5 850.8,1405.1 851.7,1406.6C852.5,1408.1 854.4,1411.7 854.9,1413.1C855.4,1414.5 855.8,1417.4 855.7,1418.7C855.6,1420.1 854.8,1423.5 854.1,1424.4C853.4,1425.3 852.8,1426.1 850.0,1426.4C847.3,1426.6 834.4,1426.4 830.6,1426.4C826.8,1426.3 819.4,1425.9 817.7,1425.7C815.9,1425.5 815.3,1425.3 815.2,1424.4C815.1,1423.5 816.7,1419.6 816.8,1417.9C816.9,1416.2 816.2,1411.5 816.0,1409.8C815.8,1408.1 815.5,1405.6 815.2,1403.4C814.9,1401.1 812.4,1392.0 813.6,1390.4Z" fill="#fcc215" />
<path d="M545.1,1394.2C546.8,1392.5 556.8,1392.6 558.9,1391.7C560.9,1390.9 561.8,1386.9 562.9,1386.9C564.0,1386.9 567.4,1390.6 568.6,1391.7C569.8,1392.9 572.5,1395.3 573.4,1396.6C574.4,1397.9 576.0,1402.7 576.7,1403.1C577.3,1403.5 578.6,1401.1 579.1,1399.8C579.6,1398.6 579.7,1393.5 580.7,1392.6C581.8,1391.6 586.4,1391.6 588.0,1391.7C589.6,1391.8 593.2,1392.4 594.5,1393.4C595.8,1394.3 598.2,1398.8 599.4,1399.8C600.5,1400.9 602.7,1402.1 604.2,1402.3C605.7,1402.5 610.4,1401.9 612.3,1401.5C614.2,1401.0 618.7,1399.2 620.4,1398.2C622.1,1397.3 625.6,1394.1 626.9,1393.4C628.2,1392.6 630.6,1391.6 631.7,1391.7C632.9,1391.9 635.3,1394.3 636.6,1395.0C637.9,1395.6 641.4,1397.2 643.1,1397.4C644.8,1397.6 649.5,1396.8 651.2,1396.6C652.9,1396.4 656.8,1395.3 657.7,1395.8C658.5,1396.3 658.7,1399.3 658.5,1400.6C658.2,1402.0 656.3,1406.1 655.2,1407.1C654.2,1408.2 650.7,1408.5 649.6,1409.6C648.4,1410.6 646.2,1414.5 645.5,1416.0C644.8,1417.5 644.4,1420.8 643.9,1422.5C643.4,1424.2 641.9,1428.6 641.5,1430.6C641.0,1432.6 640.2,1438.7 639.8,1440.0C639.5,1441.3 638.8,1440.9 638.1,1441.6C637.5,1442.4 635.2,1446.3 634.1,1446.5C633.0,1446.7 629.8,1443.8 628.4,1443.2C627.0,1442.7 623.6,1441.4 621.9,1441.6C620.2,1441.8 615.5,1443.9 613.8,1444.9C612.2,1445.8 609.3,1448.5 608.2,1449.7C607.0,1450.9 605.0,1453.9 604.1,1455.4C603.3,1456.9 601.6,1461.1 600.9,1462.7C600.1,1464.3 598.0,1467.7 597.7,1469.1C597.3,1470.6 598.0,1473.6 597.7,1474.8C597.3,1476.0 595.2,1478.4 594.4,1479.7C593.7,1481.0 591.9,1485.0 591.2,1486.2C590.4,1487.3 588.9,1488.4 587.9,1489.4C587.0,1490.3 584.1,1493.2 583.1,1494.3C582.0,1495.3 579.6,1497.4 579.0,1498.3C578.4,1499.2 577.7,1501.4 577.9,1502.3C578.1,1503.3 580.2,1505.2 580.6,1506.4C581.1,1507.6 581.5,1511.4 581.5,1512.9C581.5,1514.4 581.1,1517.9 580.6,1519.4C580.2,1520.8 578.2,1523.8 577.4,1525.0C576.7,1526.2 574.8,1529.5 574.2,1529.9C573.5,1530.3 572.8,1528.5 571.7,1528.3C570.7,1528.0 566.1,1526.9 565.3,1527.4C564.5,1528.0 564.9,1532.0 564.9,1533.1C564.9,1534.3 565.6,1535.9 565.3,1537.2C564.9,1538.4 563.0,1542.3 562.0,1543.6C561.1,1545.0 557.4,1547.4 557.2,1548.5C556.9,1549.6 559.2,1552.0 559.6,1553.4C560.0,1554.7 560.1,1558.6 560.4,1559.8C560.7,1561.1 563.9,1563.8 562.0,1564.4C560.1,1564.9 547.2,1564.2 544.2,1564.4C541.2,1564.5 538.1,1565.1 536.1,1565.5C534.1,1565.9 529.1,1567.9 527.2,1567.9C525.3,1568.0 521.7,1566.4 519.9,1566.0C518.1,1565.6 515.0,1564.8 511.8,1564.7C508.6,1564.6 496.5,1564.7 492.4,1565.0C488.2,1565.3 480.0,1566.6 476.2,1567.1C472.4,1567.7 462.3,1569.1 460.0,1569.6C457.7,1570.0 457.5,1570.6 456.3,1571.2C455.1,1571.7 451.4,1574.3 449.8,1574.4C448.2,1574.5 443.9,1572.3 442.5,1572.0C441.1,1571.6 438.8,1571.4 437.7,1571.5C436.5,1571.6 433.9,1573.0 432.8,1572.8C431.7,1572.6 429.3,1570.4 427.9,1569.6C426.6,1568.7 422.9,1566.2 421.5,1565.5C420.0,1564.8 417.1,1563.9 415.8,1563.9C414.5,1563.9 411.2,1565.6 410.1,1565.5C409.1,1565.4 408.0,1564.1 406.9,1563.4C405.7,1562.7 402.3,1560.6 400.4,1559.8C398.5,1559.0 393.0,1557.1 390.7,1556.6C388.4,1556.1 383.2,1555.4 381.0,1555.3C378.7,1555.2 373.0,1555.4 371.3,1555.8C369.6,1556.1 367.5,1557.2 366.4,1558.2C365.3,1559.3 362.7,1563.8 361.5,1564.7C360.4,1565.6 357.8,1566.1 356.7,1566.0C355.5,1565.9 352.4,1565.2 351.8,1563.9C351.2,1562.6 351.9,1556.6 351.5,1555.0C351.1,1553.4 349.1,1551.3 348.6,1550.1C348.1,1548.9 346.6,1545.2 347.0,1544.5C347.3,1543.7 350.6,1543.6 351.8,1543.6C353.0,1543.6 356.4,1544.8 357.5,1544.5C358.6,1544.1 360.5,1541.4 361.5,1540.4C362.6,1539.4 365.3,1536.5 366.4,1535.5C367.5,1534.6 370.1,1533.1 371.3,1532.3C372.4,1531.6 375.0,1530.0 376.1,1529.1C377.2,1528.1 380.4,1525.6 381.0,1524.2C381.5,1522.8 379.9,1518.0 380.6,1516.9C381.4,1515.8 386.0,1515.3 387.4,1514.8C388.9,1514.3 392.3,1512.0 393.1,1512.4C394.0,1512.7 394.1,1516.7 394.7,1517.7C395.4,1518.7 398.2,1519.7 398.8,1521.0C399.4,1522.2 399.6,1527.2 400.1,1528.3C400.6,1529.3 402.6,1529.3 402.8,1529.9C403.1,1530.4 402.5,1532.5 402.0,1533.1C401.6,1533.8 398.9,1534.8 398.8,1535.5C398.7,1536.3 400.5,1538.7 401.2,1539.6C402.0,1540.4 404.2,1542.0 405.3,1542.8C406.3,1543.7 409.2,1545.8 410.1,1546.9C411.1,1547.9 412.9,1550.4 413.4,1551.7C413.8,1553.1 413.7,1557.0 414.2,1558.2C414.6,1559.4 416.4,1561.6 417.4,1562.3C418.4,1562.9 421.8,1563.8 423.1,1563.9C424.4,1564.0 427.9,1563.5 428.7,1563.1C429.6,1562.6 429.8,1560.6 430.4,1559.8C430.9,1559.0 432.8,1556.9 433.6,1556.3C434.5,1555.6 437.0,1555.3 437.7,1554.2C438.3,1553.1 438.9,1548.1 439.3,1546.9C439.6,1545.7 440.7,1545.0 440.9,1543.6C441.0,1542.3 440.2,1536.9 440.6,1535.5C440.9,1534.2 443.1,1533.1 444.1,1532.3C445.1,1531.6 447.7,1529.9 449.0,1529.1C450.3,1528.2 454.1,1526.0 455.5,1525.0C456.8,1524.1 459.0,1522.4 460.3,1521.0C461.6,1519.6 465.0,1514.5 466.5,1512.9C468.0,1511.3 471.7,1509.1 473.0,1507.2C474.2,1505.3 476.3,1498.5 477.0,1496.7C477.7,1494.9 478.9,1492.9 478.6,1491.8C478.4,1490.8 475.0,1488.7 474.9,1487.8C474.8,1486.8 477.4,1484.9 477.8,1483.7C478.2,1482.6 478.0,1479.6 478.6,1478.1C479.3,1476.5 482.4,1472.5 483.5,1470.8C484.5,1469.1 486.4,1464.3 487.5,1463.5C488.7,1462.7 492.5,1463.1 493.2,1464.0C493.9,1464.8 492.6,1469.5 493.2,1470.8C493.8,1472.0 496.5,1474.0 498.1,1474.8C499.7,1475.6 504.8,1477.6 507.0,1477.6C509.1,1477.6 514.6,1475.4 516.7,1474.8C518.8,1474.2 522.9,1473.4 524.8,1472.4C526.7,1471.3 531.2,1467.8 532.9,1465.9C534.6,1464.0 538.1,1458.5 539.4,1456.2C540.6,1453.9 542.7,1448.4 543.4,1446.5C544.1,1444.6 544.9,1440.8 545.0,1440.0C545.1,1439.2 544.6,1441.1 544.3,1440.0C544.0,1438.9 542.7,1432.3 542.7,1430.6C542.7,1428.9 544.0,1427.3 544.3,1425.7C544.6,1424.2 544.5,1419.0 545.1,1417.7C545.7,1416.3 548.8,1415.5 549.1,1414.4C549.5,1413.3 548.9,1408.9 548.3,1407.9C547.8,1407.0 544.7,1407.9 544.3,1406.3C543.9,1404.7 543.4,1395.9 545.1,1394.2Z" fill="#e8282b" stroke="#f3b8a0" stroke-width="0.5" stroke-linejoin="round" />
<path d="M655.2,1407.1C656.5,1406.8 659.3,1407.0 660.9,1407.1C662.5,1407.2 667.4,1407.5 669.0,1407.9C670.6,1408.4 673.1,1411.0 674.7,1411.2C676.2,1411.4 680.1,1409.6 681.9,1409.6C683.7,1409.6 688.2,1410.6 690.0,1411.2C691.9,1411.7 696.1,1413.7 698.1,1414.4C700.2,1415.2 706.2,1417.1 707.9,1417.7C709.5,1418.3 710.7,1419.4 712.4,1419.6C714.1,1419.7 720.0,1418.9 722.1,1418.7C724.2,1418.6 728.9,1418.0 730.2,1417.9C731.5,1417.8 732.7,1417.5 733.4,1417.9C734.2,1418.4 735.7,1421.0 736.7,1421.5C737.6,1422.0 741.0,1421.7 741.5,1422.5C742.1,1423.2 741.4,1426.5 741.7,1428.1C742.0,1429.7 743.4,1434.3 744.1,1436.2C744.9,1438.1 748.0,1442.6 748.2,1444.3C748.4,1446.0 746.8,1449.7 745.7,1450.8C744.7,1451.8 740.7,1452.7 739.3,1453.2C737.9,1453.7 734.1,1453.8 733.6,1454.8C733.1,1455.9 735.2,1460.1 735.2,1462.1C735.2,1464.1 733.3,1469.7 733.6,1471.8C733.9,1473.9 737.0,1478.1 737.7,1479.9C738.3,1481.7 738.8,1485.5 739.3,1487.2C739.7,1488.9 741.4,1492.3 741.7,1494.5C742.0,1496.7 741.6,1503.2 741.7,1505.8C741.8,1508.5 742.3,1515.1 742.5,1517.2C742.7,1519.2 742.8,1522.3 743.3,1523.6C743.9,1525.0 746.7,1527.2 747.4,1528.5C748.0,1529.8 748.0,1533.6 749.0,1535.0C749.9,1536.4 753.8,1539.9 755.5,1540.6C757.2,1541.4 761.7,1541.3 763.6,1541.8C765.5,1542.2 771.5,1543.5 771.7,1544.4C771.8,1545.3 767.1,1548.5 765.2,1549.6C763.3,1550.6 757.4,1552.8 755.5,1553.6C753.6,1554.4 750.3,1555.2 749.0,1556.0C747.7,1556.9 744.9,1559.4 744.1,1560.9C743.4,1562.4 743.1,1567.3 742.5,1569.0C741.9,1570.7 740.2,1574.1 739.3,1575.5C738.3,1576.8 735.5,1579.4 734.4,1580.3C733.4,1581.3 730.7,1582.2 730.4,1583.6C730.0,1584.9 731.3,1590.3 731.2,1591.7C731.1,1593.0 729.7,1593.0 729.6,1594.9C729.4,1596.8 730.3,1606.2 729.6,1607.9C728.8,1609.5 724.6,1608.9 723.1,1609.1C721.6,1609.4 717.9,1609.9 716.6,1609.8C715.3,1609.7 712.9,1608.7 711.7,1608.7C710.6,1608.6 708.0,1609.3 706.9,1609.1C705.7,1609.0 703.4,1607.6 702.0,1607.0C700.6,1606.5 696.2,1605.0 694.7,1604.6C693.2,1604.2 689.9,1604.2 689.1,1603.8C688.2,1603.4 688.2,1601.5 687.4,1601.1C686.7,1600.6 683.0,1600.4 682.6,1599.8C682.2,1599.1 684.6,1596.6 684.2,1595.7C683.8,1594.9 680.7,1593.2 679.4,1592.5C678.0,1591.7 674.6,1589.9 672.9,1589.2C671.2,1588.6 666.9,1587.4 664.8,1586.8C662.7,1586.2 657.1,1584.9 655.1,1584.4C653.0,1583.8 648.9,1582.7 647.0,1581.9C645.1,1581.2 640.6,1578.8 638.9,1577.9C637.2,1577.0 633.7,1574.9 632.4,1573.8C631.1,1572.8 628.7,1570.1 627.5,1569.0C626.4,1567.9 624.0,1565.1 622.7,1564.1C621.3,1563.2 617.9,1561.5 616.2,1560.9C614.5,1560.3 610.0,1559.3 608.1,1558.9C606.2,1558.6 602.5,1558.1 600.0,1558.0C597.5,1557.9 589.4,1557.9 586.3,1557.9C583.2,1557.9 575.7,1557.9 573.4,1558.2C571.0,1558.5 567.2,1559.8 566.1,1560.6C564.9,1561.5 564.1,1565.1 563.6,1565.5C563.2,1565.9 562.4,1565.0 562.0,1564.4C561.6,1563.7 560.7,1561.1 560.4,1559.8C560.1,1558.6 560.0,1554.7 559.6,1553.4C559.2,1552.0 556.9,1549.6 557.2,1548.5C557.4,1547.4 561.1,1545.0 562.0,1543.6C563.0,1542.3 564.9,1538.4 565.3,1537.2C565.6,1535.9 564.9,1534.3 564.9,1533.1C564.9,1532.0 564.5,1528.0 565.3,1527.4C566.1,1526.9 570.7,1528.0 571.7,1528.3C572.8,1528.5 573.5,1530.3 574.2,1529.9C574.8,1529.5 576.7,1526.2 577.4,1525.0C578.2,1523.8 580.2,1520.8 580.6,1519.4C581.1,1517.9 581.5,1514.4 581.5,1512.9C581.5,1511.4 581.1,1507.6 580.6,1506.4C580.2,1505.2 578.1,1503.3 577.9,1502.3C577.7,1501.4 578.4,1499.2 579.0,1498.3C579.6,1497.4 582.0,1495.3 583.1,1494.3C584.1,1493.2 587.0,1490.3 587.9,1489.4C588.9,1488.4 590.4,1487.3 591.2,1486.2C591.9,1485.0 593.7,1481.0 594.4,1479.7C595.2,1478.4 597.3,1476.0 597.7,1474.8C598.0,1473.6 597.3,1470.6 597.7,1469.1C598.0,1467.7 600.1,1464.3 600.9,1462.7C601.6,1461.1 603.3,1456.9 604.1,1455.4C605.0,1453.9 607.0,1450.9 608.2,1449.7C609.3,1448.5 612.2,1445.8 613.8,1444.9C615.5,1443.9 620.2,1441.8 621.9,1441.6C623.6,1441.4 627.0,1442.7 628.4,1443.2C629.8,1443.8 633.0,1446.7 634.1,1446.5C635.2,1446.3 637.5,1442.4 638.1,1441.6C638.8,1440.9 639.5,1441.3 639.8,1440.0C640.2,1438.7 641.0,1432.6 641.5,1430.6C641.9,1428.6 643.4,1424.2 643.9,1422.5C644.4,1420.8 644.8,1417.5 645.5,1416.0C646.2,1414.5 648.4,1410.6 649.6,1409.6C650.7,1408.5 653.9,1407.4 655.2,1407.1Z" fill="#70b145" stroke="#e9c9a0" stroke-width="0.8" stroke-linejoin="round" />
<path d="M308.9,1498.3C309.1,1497.0 309.4,1497.6 311.3,1495.9C313.3,1494.1 313.6,1493.8 316.2,1491.8C318.8,1489.9 318.7,1490.3 321.1,1488.6C323.4,1486.9 322.9,1487.0 325.1,1485.3C327.3,1483.7 326.8,1483.7 329.1,1482.4C331.5,1481.1 330.8,1481.1 334.0,1480.5C337.2,1479.9 338.5,1480.9 341.3,1480.2C344.1,1479.4 341.3,1478.4 344.5,1477.6C347.8,1476.7 350.2,1477.5 353.4,1476.9C356.7,1476.3 355.0,1475.6 356.7,1475.3C358.3,1475.0 359.6,1474.8 359.6,1476.0C359.6,1477.1 357.9,1477.2 356.7,1479.7C355.5,1482.2 355.3,1482.5 355.1,1485.3C354.8,1488.2 355.4,1487.4 355.9,1490.2C356.3,1493.0 357.1,1493.1 356.7,1495.9C356.2,1498.7 355.5,1498.1 354.3,1500.7C353.0,1503.3 353.8,1503.9 351.8,1505.6C349.9,1507.3 349.3,1506.6 347.0,1507.2C344.6,1507.9 345.1,1507.2 342.9,1508.0C340.8,1508.9 340.2,1508.9 338.9,1510.4C337.6,1512.0 339.4,1512.1 338.1,1513.7C336.8,1515.3 336.0,1515.8 334.0,1516.4C332.1,1517.1 332.0,1516.6 330.8,1516.1C329.6,1515.6 328.8,1515.8 329.5,1514.5C330.1,1513.2 331.3,1513.0 333.2,1511.3C335.1,1509.5 335.4,1510.0 336.4,1508.0C337.4,1506.1 337.8,1506.3 336.9,1504.0C336.1,1501.6 334.6,1501.5 333.2,1499.1C331.8,1496.7 332.1,1497.4 331.6,1495.1C331.0,1492.7 332.0,1492.0 331.1,1490.2C330.2,1488.4 330.2,1488.7 328.3,1488.3C326.5,1487.8 326.5,1487.4 324.3,1488.6C322.1,1489.7 322.4,1490.5 320.2,1492.6C318.1,1494.8 317.9,1494.3 316.2,1496.7C314.5,1499.1 315.3,1500.5 313.8,1501.5C312.3,1502.6 311.8,1501.6 310.5,1500.7C309.2,1499.9 308.7,1499.6 308.9,1498.3Z" fill="#e8282b" />
<path d="M354.3,1535.5C354.5,1533.8 354.9,1534.0 356.7,1534.3C358.5,1534.5 359.1,1534.7 359.6,1536.4C360.1,1538.0 359.5,1538.0 358.3,1539.1C357.1,1540.2 357.2,1540.8 355.9,1539.6C354.5,1538.4 354.0,1537.3 354.3,1535.5Z" fill="#e8282b" />
</g>
<rect x="398.1" y="1382" width="16.5" height="16.5" fill="#1a2a15"/>
<polygon points="396,1421.6 414.2,1421.6 405.2,1403" fill="#c51d25"/>
<rect x="831.9" y="1577.3" width="10" height="10" fill="#1a2a15"/>
<polygon points="830.2,1602.6 841.4,1602.6 835.8,1590.8" fill="#c51d25"/>
<g transform="translate(870,1370) scale(0.26721)"><circle cx="577" cy="347" r="237" fill="#5cc8ef"/><clipPath id="gc"><circle cx="577" cy="347" r="237"/></clipPath><g clip-path="url(#gc)" fill="#63c3a4"><path d="M330,300 C350,200 430,140 505,150 C520,180 500,220 470,240 C455,275 420,300 385,322 C360,330 340,320 330,300Z"/><path d="M640,190 C680,150 740,170 770,210 C740,240 700,230 660,225Z"/><path d="M530,370 C560,330 620,340 650,370 C640,410 600,430 560,420Z"/><path d="M700,340 C740,300 800,300 830,340 C830,420 800,480 750,490 C720,440 700,400 700,340Z"/><path d="M420,270l30,-10l10,25l-30,10z"/></g><ellipse cx="545" cy="165" rx="38" ry="22" fill="#5b9fdc" clip-path="url(#gc)"/><path d="M270,478 L578,165 L688,265 L848,112 L825,93 L942,80 L920,195 L900,172 L690,358 L580,262 L290,548 Z" fill="#e2212b"/><path d="M175,463h125l6,8l-5,7l7,8l-7,7l8,8l-8,7l7,8l-7,7l6,8l-8,7l6,8l-8,7l5,8l-7,7l4,8l6,7v4h-138z" fill="#f8a92b"/><path d="M180,476h122" stroke="#f08a1c" stroke-width="2.500" opacity="0.45"/><path d="M180,488h122" stroke="#f08a1c" stroke-width="2.500" opacity="0.45"/><path d="M180,500h122" stroke="#f08a1c" stroke-width="2.500" opacity="0.45"/><path d="M180,512h122" stroke="#f08a1c" stroke-width="2.500" opacity="0.45"/><path d="M180,524h122" stroke="#f08a1c" stroke-width="2.500" opacity="0.45"/><path d="M180,536h122" stroke="#f08a1c" stroke-width="2.500" opacity="0.45"/><path d="M180,548h122" stroke="#f08a1c" stroke-width="2.500" opacity="0.45"/><path d="M180,560h122" stroke="#f08a1c" stroke-width="2.500" opacity="0.45"/><path d="M180,572h122" stroke="#f08a1c" stroke-width="2.500" opacity="0.45"/><rect x="852" y="275" width="36" height="50" fill="#cdd6ef"/><rect x="908" y="222" width="35" height="103" fill="#a9b9e6"/><rect x="963" y="177" width="35" height="148" fill="#f8a04f"/><path d="M930,420 C935,380 960,362 985,360 L978,345 L1000,348 L998,362 C1015,375 1025,395 1025,420Z" fill="#b9c6e6"/><path d="M975,345 l25,3 l5,12 l-28,-2z" fill="#8fa3d6"/><path d="M912,420h132l6,14l-6,13l6,14l-6,13l6,14l-6,13l6,14l-6,13l6,14l-6,13l4,14l-4,14h-128l-6,-14l6,-13l-6,-14l6,-13l-6,-14l6,-13l-6,-14l6,-13l-6,-14l6,-13l-6,-14z" fill="#f9b233"/><path d="M912,433h134" stroke="#f39a1e" stroke-width="2.500" opacity="0.55"/><path d="M912,446h134" stroke="#f39a1e" stroke-width="2.500" opacity="0.55"/><path d="M912,459h134" stroke="#f39a1e" stroke-width="2.500" opacity="0.55"/><path d="M912,472h134" stroke="#f39a1e" stroke-width="2.500" opacity="0.55"/><path d="M912,485h134" stroke="#f39a1e" stroke-width="2.500" opacity="0.55"/><path d="M912,498h134" stroke="#f39a1e" stroke-width="2.500" opacity="0.55"/><path d="M912,511h134" stroke="#f39a1e" stroke-width="2.500" opacity="0.55"/><path d="M912,524h134" stroke="#f39a1e" stroke-width="2.500" opacity="0.55"/><path d="M912,537h134" stroke="#f39a1e" stroke-width="2.500" opacity="0.55"/><path d="M912,550h134" stroke="#f39a1e" stroke-width="2.500" opacity="0.55"/><path d="M912,563h134" stroke="#f39a1e" stroke-width="2.500" opacity="0.55"/><path d="M912,576h134" stroke="#f39a1e" stroke-width="2.500" opacity="0.55"/><circle cx="882" cy="525" r="62" fill="#f9b233"/><circle cx="882" cy="525" r="47" fill="#fbc24e"/><path d="M161.700,398 h72.700 l1.500,185 h-18.200 l-19.700,-142 l-18.200,142 h-19.700z" fill="#2b4a9b"/><path d="M158,577h24v7h-26zM216,577h22v7h-24z" fill="#1f2a52"/><path d="M160,284 C175,278 222,278 240,284 C258,292 272,320 277,343 L238,392 L235,400 L161,400 L159,392 L124,346 C128,320 142,292 160,284Z" fill="#a4b6e8"/><path d="M148,352 L162,382 L162,340Z M250,350 L234,382 L234,338Z" fill="#fbeade"/><path d="M132,356 L160,392 L166,384 L142,350Z M268,353 L236,392 L230,384 L258,347Z" fill="#f2a877"/><path d="M192,286h12l4,82l-10,15l-10,-15z" fill="#f08a2c"/><path d="M190,268h16v18l-8,6l-8,-6z" fill="#f2a877"/><ellipse cx="198" cy="254" rx="17" ry="22" fill="#f6b98f"/><path d="M180,246 C174,222 190,214 200,218 C214,214 226,226 216,246 C212,236 206,232 200,233 C192,232 184,238 180,246Z" fill="#1f2a5e"/><path d="M48,585.500H1157" stroke="#46424c" stroke-width="4"/></g>
<g transform="translate(890,1645) scale(0.08097)"><g fill="none" stroke="#e8853f" stroke-width="5" opacity="0.9"><ellipse cx="690" cy="380" rx="300" ry="190" transform="rotate(-18 690 380)"/><ellipse cx="670" cy="400" rx="330" ry="215" transform="rotate(-22 670 400)" opacity="0.6"/></g><path d="M570,215h150l-18,140h-150z" fill="#e2692a"/><path d="M700,362h150l-25,238h-150z" fill="#e2692a"/><path d="M460,752 C620,730 780,670 860,600" fill="none" stroke="#b9a9a6" stroke-width="9" opacity="0.85"/><path d="M128,560 C90,640 170,745 310,752" fill="none" stroke="#3a8fd4" stroke-width="24" stroke-linecap="round"/><path d="M235,395 C170,430 120,500 118,590" fill="none" stroke="#b9a9a6" stroke-width="7" opacity="0.8"/><path d="M275,138 h120 q10,0 9,10 l-22,215 h125 q12,0 10,12 l-32,200 q-2,10 -12,10 h-150 l30,-215 h-118 q-10,0 -9,-10 l28,-212 q2,-10 12,-10z" fill="#2b8bd8"/><path d="M540,410 h130 l-35,220 h-140z" fill="#5cb947"/><path d="M325,628 h140 l-35,232 h-145z" fill="#5cb947"/></g>
<g>
<text><tspan x="36.37" y="79.70" font-size="65.60" textLength="790.66" lengthAdjust="spacingAndGlyphs" fill="#d2672a" stroke="#d2672a" stroke-width="0.6" stroke-linejoin="round" font-weight="bold">PERTUMBUHAN EKONOMI</tspan> <tspan x="37.39" y="138.10" font-size="65.60" textLength="798.52" lengthAdjust="spacingAndGlyphs" fill="#d2672a" stroke="#d2672a" stroke-width="0.6" stroke-linejoin="round" font-weight="bold">BANTEN TRIWULAN I–2025</tspan></text>
<text x="36.09" y="175.70" font-size="22.80" textLength="537.59" lengthAdjust="spacingAndGlyphs" fill="#0a0a0a" stroke="#0a0a0a" stroke-width="0.1" stroke-linejoin="round">Berita Resmi Statistik No. 24/05/36/Th. XIX, 5 Mei 2025</text>
<text x="82.19" y="219.70" font-size="22.00" textLength="50.89" lengthAdjust="spacingAndGlyphs" fill="#fdf3e6" stroke="#fdf3e6" stroke-width="0.25" stroke-linejoin="round" font-style="italic">q-to-q</text>
<text x="54.38" y="272.40" font-size="43.30" textLength="109.97" lengthAdjust="spacingAndGlyphs" fill="#fdf3e6" stroke="#fdf3e6" stroke-width="0.5" stroke-linejoin="round" font-weight="bold">1,01%</text>
<text x="236.14" y="219.70" font-size="22.00" textLength="50.53" lengthAdjust="spacingAndGlyphs" fill="#fdf3e6" stroke="#fdf3e6" stroke-width="0.25" stroke-linejoin="round" font-style="italic">y-on-y</text>
<text x="216.40" y="269.90" font-size="43.50" textLength="109.55" lengthAdjust="spacingAndGlyphs" fill="#fdf3e6" stroke="#fdf3e6" stroke-width="0.5" stroke-linejoin="round" font-weight="bold">5,19%</text>
<text x="375.28" y="223.70" font-size="18.60" textLength="370.90" lengthAdjust="spacingAndGlyphs" fill="#fdf3e6" stroke="#fdf3e6" stroke-width="0.15" stroke-linejoin="round">PRODUK DOMESTIK REGIONAL BRUTO (PDRB) HARGA BERLAKU</text>
<text x="459.35" y="271.00" font-size="41.50" textLength="255.60" lengthAdjust="spacingAndGlyphs" fill="#fdf3e6" stroke="#fdf3e6" stroke-width="0.5" stroke-linejoin="round" font-weight="bold">Rp227,92 triliun</text>
<text x="802.38" y="223.70" font-size="18.60" textLength="373.59" lengthAdjust="spacingAndGlyphs" fill="#fdf3e6" stroke="#fdf3e6" stroke-width="0.15" stroke-linejoin="round">PRODUK DOMESTIK REGIONAL BRUTO (PDRB) HARGA KONSTAN</text>
<text x="871.86" y="271.00" font-size="41.50" textLength="254.89" lengthAdjust="spacingAndGlyphs" fill="#fdf3e6" stroke="#fdf3e6" stroke-width="0.5" stroke-linejoin="round" font-weight="bold">Rp137,22 triliun</text>
<text><tspan x="40.53" y="346.00" font-size="37.20" textLength="746.12" lengthAdjust="spacingAndGlyphs" fill="#d2672a" stroke="#d2672a" stroke-width="0.6" stroke-linejoin="round" font-weight="bold">PERTUMBUHAN EKONOMI TAHUN 2023–2025 (</tspan><tspan x="789.45" y="346.00" font-size="37.20" textLength="92.90" lengthAdjust="spacingAndGlyphs" fill="#d2672a" stroke="#d2672a" stroke-width="0.6" stroke-linejoin="round" font-weight="bold" font-style="italic">y-on-y</tspan><tspan x="886.50" y="346.00" font-size="37.20" textLength="10.66" lengthAdjust="spacingAndGlyphs" fill="#d2672a" stroke="#d2672a" stroke-width="0.6" stroke-linejoin="round" font-weight="bold">)</tspan></text>
<text x="40.62" y="370.70" font-size="21.00" textLength="77.76" lengthAdjust="spacingAndGlyphs" fill="#d2672a" stroke="#d2672a" stroke-width="0.15" stroke-linejoin="round">(persen)</text>
<text x="64.92" y="634.80" font-size="22.40" textLength="34.60" lengthAdjust="spacingAndGlyphs" fill="#0a0a0a" stroke="#0a0a0a" stroke-width="0.12" stroke-linejoin="round">4,66</text>
<text x="190.22" y="595.30" font-size="22.40" textLength="35.32" lengthAdjust="spacingAndGlyphs" fill="#0a0a0a" stroke="#0a0a0a" stroke-width="0.12" stroke-linejoin="round">4,76</text>
<text x="312.73" y="552.20" font-size="22.40" textLength="33.57" lengthAdjust="spacingAndGlyphs" fill="#0a0a0a" stroke="#0a0a0a" stroke-width="0.12" stroke-linejoin="round">4,97</text>
<text x="438.82" y="589.40" font-size="22.40" textLength="34.91" lengthAdjust="spacingAndGlyphs" fill="#0a0a0a" stroke="#0a0a0a" stroke-width="0.12" stroke-linejoin="round">4,85</text>
<text x="560.23" y="654.20" font-size="22.40" textLength="33.26" lengthAdjust="spacingAndGlyphs" fill="#0a0a0a" stroke="#0a0a0a" stroke-width="0.12" stroke-linejoin="round">4,51</text>
<text x="681.72" y="622.80" font-size="22.40" textLength="34.31" lengthAdjust="spacingAndGlyphs" fill="#0a0a0a" stroke="#0a0a0a" stroke-width="0.12" stroke-linejoin="round">4,70</text>
<text x="813.02" y="553.00" font-size="22.40" textLength="34.50" lengthAdjust="spacingAndGlyphs" fill="#0a0a0a" stroke="#0a0a0a" stroke-width="0.12" stroke-linejoin="round">4,93</text>
<text x="945.34" y="520.60" font-size="22.40" textLength="34.68" lengthAdjust="spacingAndGlyphs" fill="#0a0a0a" stroke="#0a0a0a" stroke-width="0.12" stroke-linejoin="round">5,02</text>
<text x="1059.83" y="483.30" font-size="31.70" textLength="48.07" lengthAdjust="spacingAndGlyphs" fill="#0a0a0a" stroke="#0a0a0a" stroke-width="0.15" stroke-linejoin="round">5,19</text>
<text x="38.70" y="820.90" font-size="15.80" textLength="83.57" lengthAdjust="spacingAndGlyphs" fill="#6b4a2c" stroke="#6b4a2c" stroke-width="0.1" stroke-linejoin="round">Tw I-2023</text>
<text x="154.30" y="820.90" font-size="15.80" textLength="88.97" lengthAdjust="spacingAndGlyphs" fill="#6b4a2c" stroke="#6b4a2c" stroke-width="0.1" stroke-linejoin="round">Tw II-2023</text>
<text x="281.70" y="820.90" font-size="15.80" textLength="94.07" lengthAdjust="spacingAndGlyphs" fill="#6b4a2c" stroke="#6b4a2c" stroke-width="0.1" stroke-linejoin="round">Tw III-2023</text>
<text x="412.30" y="820.90" font-size="15.80" textLength="95.47" lengthAdjust="spacingAndGlyphs" fill="#6b4a2c" stroke="#6b4a2c" stroke-width="0.1" stroke-linejoin="round">Tw IV-2023</text>
<text x="542.70" y="820.90" font-size="15.80" textLength="83.27" lengthAdjust="spacingAndGlyphs" fill="#6b4a2c" stroke="#6b4a2c" stroke-width="0.1" stroke-linejoin="round">Tw I-2024</text>
<text x="662.40" y="820.90" font-size="15.80" textLength="88.57" lengthAdjust="spacingAndGlyphs" fill="#6b4a2c" stroke="#6b4a2c" stroke-width="0.1" stroke-linejoin="round">Tw II-2024</text>
<text x="787.90" y="820.90" font-size="15.80" textLength="93.57" lengthAdjust="spacingAndGlyphs" fill="#6b4a2c" stroke="#6b4a2c" stroke-width="0.1" stroke-linejoin="round">Tw III-2024</text>
<text x="919.90" y="820.90" font-size="15.80" textLength="95.57" lengthAdjust="spacingAndGlyphs" fill="#6b4a2c" stroke="#6b4a2c" stroke-width="0.1" stroke-linejoin="round">Tw IV-2024</text>
<text x="1052.40" y="818.90" font-size="15.80" textLength="83.97" lengthAdjust="spacingAndGlyphs" fill="#6b4a2c" stroke="#6b4a2c" stroke-width="0.1" stroke-linejoin="round">Tw I-2025</text>
<text x="42.85" y="873.00" font-size="21.50" textLength="471.86" lengthAdjust="spacingAndGlyphs" fill="#cd672b" stroke="#cd672b" stroke-width="0.15" stroke-linejoin="round">PERTUMBUHAN EKONOMI MENURUT LAPANGAN USAHA</text>
<text x="43.24" y="896.60" font-size="18.30" textLength="120.39" lengthAdjust="spacingAndGlyphs" fill="#cd672b" stroke="#cd672b" stroke-width="0.15" stroke-linejoin="round">(y-on-y) (persen)</text>
<text x="744.87" y="876.00" font-size="21.50" textLength="439.52" lengthAdjust="spacingAndGlyphs" fill="#cd672b" stroke="#cd672b" stroke-width="0.15" stroke-linejoin="round">PERTUMBUHAN EKONOMI MENURUT PENGELUARAN</text>
<text x="1069.74" y="897.20" font-size="18.30" textLength="116.30" lengthAdjust="spacingAndGlyphs" fill="#cd672b" stroke="#cd672b" stroke-width="0.15" stroke-linejoin="round">(y-on-y)(persen)</text>
<text x="79.76" y="1057.70" font-size="19.90" textLength="29.76" lengthAdjust="spacingAndGlyphs" fill="#0a0a0a" stroke="#0a0a0a" stroke-width="0.12" stroke-linejoin="round">4,51</text>
<text x="185.15" y="1052.60" font-size="19.90" textLength="31.10" lengthAdjust="spacingAndGlyphs" fill="#0a0a0a" stroke="#0a0a0a" stroke-width="0.12" stroke-linejoin="round">4,62</text>
<text x="287.44" y="1067.10" font-size="19.90" textLength="31.92" lengthAdjust="spacingAndGlyphs" fill="#0a0a0a" stroke="#0a0a0a" stroke-width="0.12" stroke-linejoin="round">4,43</text>
<text x="381.95" y="1010.70" font-size="19.90" textLength="31.15" lengthAdjust="spacingAndGlyphs" fill="#0a0a0a" stroke="#0a0a0a" stroke-width="0.12" stroke-linejoin="round">7,20</text>
<text x="480.61" y="1040.60" font-size="19.90" textLength="30.63" lengthAdjust="spacingAndGlyphs" fill="#0a0a0a" stroke="#0a0a0a" stroke-width="0.12" stroke-linejoin="round">5,92</text>
<text x="727.79" y="1051.20" font-size="19.90" textLength="31.77" lengthAdjust="spacingAndGlyphs" fill="#0a0a0a" stroke="#0a0a0a" stroke-width="0.12" stroke-linejoin="round">5,48</text>
<text x="1024.91" y="1085.30" font-size="19.90" textLength="30.73" lengthAdjust="spacingAndGlyphs" fill="#0a0a0a" stroke="#0a0a0a" stroke-width="0.12" stroke-linejoin="round">1,82</text>
<text x="1119.62" y="933.30" font-size="19.90" textLength="39.42" lengthAdjust="spacingAndGlyphs" fill="#0a0a0a" stroke="#0a0a0a" stroke-width="0.12" stroke-linejoin="round">16,42</text>
<text x="821.90" y="1148.20" font-size="19.90" textLength="36.76" lengthAdjust="spacingAndGlyphs" fill="#d9262c" stroke="#d9262c" stroke-width="0.12" stroke-linejoin="round">-2,28</text>
<text x="922.01" y="1145.20" font-size="19.90" textLength="35.42" lengthAdjust="spacingAndGlyphs" fill="#d9262c" stroke="#d9262c" stroke-width="0.12" stroke-linejoin="round">-0,37</text>
<text><tspan x="67.33" y="1217.00" font-size="13.00" textLength="48.95" lengthAdjust="spacingAndGlyphs" fill="#231f20" stroke="#231f20" stroke-width="0.15" stroke-linejoin="round">Industri</tspan> <tspan x="52.89" y="1234.00" font-size="13.00" textLength="75.60" lengthAdjust="spacingAndGlyphs" fill="#231f20" stroke="#231f20" stroke-width="0.15" stroke-linejoin="round">Pengolahan</tspan></text>
<text><tspan x="156.79" y="1217.00" font-size="13.00" textLength="85.00" lengthAdjust="spacingAndGlyphs" fill="#231f20" stroke="#231f20" stroke-width="0.15" stroke-linejoin="round">Perdagangan</tspan> <tspan x="146.36" y="1231.70" font-size="13.00" textLength="109.83" lengthAdjust="spacingAndGlyphs" fill="#231f20" stroke="#231f20" stroke-width="0.15" stroke-linejoin="round">Besar dan Eceran;</tspan> <tspan x="149.13" y="1246.50" font-size="13.00" textLength="104.42" lengthAdjust="spacingAndGlyphs" fill="#231f20" stroke="#231f20" stroke-width="0.15" stroke-linejoin="round">Reparasi Mobil &amp;</tspan> <tspan x="155.26" y="1260.70" font-size="13.00" textLength="88.01" lengthAdjust="spacingAndGlyphs" fill="#231f20" stroke="#231f20" stroke-width="0.15" stroke-linejoin="round">Sepeda Motor</tspan></text>
<text x="270.50" y="1217.00" font-size="13.00" textLength="65.93" lengthAdjust="spacingAndGlyphs" fill="#231f20" stroke="#231f20" stroke-width="0.15" stroke-linejoin="round">Konstruksi</text>
<text><tspan x="359.79" y="1217.00" font-size="13.00" textLength="88.16" lengthAdjust="spacingAndGlyphs" fill="#231f20" stroke="#231f20" stroke-width="0.15" stroke-linejoin="round">Transportasi &amp;</tspan> <tspan x="358.90" y="1231.70" font-size="13.00" textLength="84.90" lengthAdjust="spacingAndGlyphs" fill="#231f20" stroke="#231f20" stroke-width="0.15" stroke-linejoin="round">Pergudangan</tspan></text>
<text x="473.23" y="1217.00" font-size="13.00" textLength="47.98" lengthAdjust="spacingAndGlyphs" fill="#231f20" stroke="#231f20" stroke-width="0.15" stroke-linejoin="round">Lainnya</text>
<text><tspan x="707.30" y="1222.90" font-size="13.00" textLength="61.73" lengthAdjust="spacingAndGlyphs" fill="#231f20" stroke="#231f20" stroke-width="0.15" stroke-linejoin="round">Konsumsi</tspan> <tspan x="691.41" y="1240.00" font-size="13.00" textLength="94.50" lengthAdjust="spacingAndGlyphs" fill="#231f20" stroke="#231f20" stroke-width="0.15" stroke-linejoin="round">Rumah Tangga</tspan></text>
<text><tspan x="814.41" y="1222.90" font-size="13.00" textLength="61.10" lengthAdjust="spacingAndGlyphs" fill="#231f20" stroke="#231f20" stroke-width="0.15" stroke-linejoin="round">Konsumsi</tspan> <tspan x="823.74" y="1240.00" font-size="13.00" textLength="40.07" lengthAdjust="spacingAndGlyphs" fill="#231f20" stroke="#231f20" stroke-width="0.15" stroke-linejoin="round">LNPRT</tspan></text>
<text><tspan x="911.09" y="1222.90" font-size="13.00" textLength="62.24" lengthAdjust="spacingAndGlyphs" fill="#231f20" stroke="#231f20" stroke-width="0.15" stroke-linejoin="round">Konsumsi</tspan> <tspan x="905.18" y="1240.00" font-size="13.00" textLength="73.43" lengthAdjust="spacingAndGlyphs" fill="#231f20" stroke="#231f20" stroke-width="0.15" stroke-linejoin="round">Pemerintah</tspan></text>
<text x="1022.09" y="1222.90" font-size="13.00" textLength="35.85" lengthAdjust="spacingAndGlyphs" fill="#231f20" stroke="#231f20" stroke-width="0.15" stroke-linejoin="round">PMTB</text>
<text><tspan x="1119.08" y="1222.90" font-size="13.00" textLength="56.37" lengthAdjust="spacingAndGlyphs" fill="#231f20" stroke="#231f20" stroke-width="0.15" stroke-linejoin="round">Total Net</tspan> <tspan x="1124.33" y="1240.00" font-size="13.00" textLength="42.43" lengthAdjust="spacingAndGlyphs" fill="#231f20" stroke="#231f20" stroke-width="0.15" stroke-linejoin="round">Ekspor</tspan></text>
<text><tspan x="146.51" y="1371.70" font-size="30.00" textLength="137.04" lengthAdjust="spacingAndGlyphs" fill="#d2652c" stroke="#d2652c" stroke-width="0.15" stroke-linejoin="round">PERTUMBUHAN</tspan> <tspan x="81.24" y="1396.50" font-size="30.00" textLength="201.60" lengthAdjust="spacingAndGlyphs" fill="#d2652c" stroke="#d2652c" stroke-width="0.15" stroke-linejoin="round">DAN KONTRIBUSI PDRB</tspan> <tspan x="125.44" y="1421.50" font-size="30.00" textLength="158.07" lengthAdjust="spacingAndGlyphs" fill="#d2652c" stroke="#d2652c" stroke-width="0.15" stroke-linejoin="round">PROVINSI BANTEN</tspan> <tspan x="131.82" y="1446.60" font-size="30.00" textLength="151.02" lengthAdjust="spacingAndGlyphs" fill="#d2652c" stroke="#d2652c" stroke-width="0.15" stroke-linejoin="round">TRIWULAN I-2025</tspan></text>
<text><tspan x="92.11" y="1488.40" font-size="18.00" textLength="188.41" lengthAdjust="spacingAndGlyphs" fill="#050505" stroke="#050505" stroke-width="0.15" stroke-linejoin="round">Banten memberikan kontribusi</tspan> <tspan x="63.80" y="1512.00" font-size="18.00" textLength="215.71" lengthAdjust="spacingAndGlyphs" fill="#050505" stroke="#050505" stroke-width="0.15" stroke-linejoin="round">terhadap perekonomian Pulau Jawa</tspan> <tspan x="161.40" y="1536.10" font-size="18.00" textLength="118.94" lengthAdjust="spacingAndGlyphs" fill="#050505" stroke="#050505" stroke-width="0.15" stroke-linejoin="round">sebesar 6,99 persen</tspan> <tspan x="69.87" y="1559.70" font-size="18.00" textLength="210.97" lengthAdjust="spacingAndGlyphs" fill="#050505" stroke="#050505" stroke-width="0.15" stroke-linejoin="round">dengan pertumbuhan 5,19 persen.</tspan></text>
<text x="398.04" y="1373.40" font-size="19.60" textLength="63.97" lengthAdjust="spacingAndGlyphs" fill="#0c5a2a" stroke="#0c5a2a" stroke-width="0.4" stroke-linejoin="round" font-weight="bold">BANTEN</text>
<text x="420.97" y="1396.40" font-size="17.00" textLength="32.85" lengthAdjust="spacingAndGlyphs" fill="#1c1616" stroke="#1c1616" stroke-width="0.3" stroke-linejoin="round" font-weight="bold">6,99</text>
<text x="421.94" y="1420.30" font-size="17.00" textLength="32.17" lengthAdjust="spacingAndGlyphs" fill="#1c1616" stroke="#1c1616" stroke-width="0.3" stroke-linejoin="round" font-weight="bold">5,19</text>
<text><tspan x="845.87" y="1585.10" font-size="10.40" textLength="52.91" lengthAdjust="spacingAndGlyphs" fill="#111" stroke="#111" stroke-width="0.12" stroke-linejoin="round">Kontribusi</tspan> <tspan x="901.22" y="1585.10" font-size="10.40" textLength="30.41" lengthAdjust="spacingAndGlyphs" fill="#111" stroke="#111" stroke-width="0.1" stroke-linejoin="round">(persen)</tspan></text>
<text x="847.14" y="1601.80" font-size="10.60" textLength="84.50" lengthAdjust="spacingAndGlyphs" fill="#111" stroke="#111" stroke-width="0.12" stroke-linejoin="round">Pertumbuhan (persen)</text>
<text x="986.24" y="1514.30" font-size="44.50" textLength="79.94" lengthAdjust="spacingAndGlyphs" fill="#0a0a0a" stroke="#0a0a0a" stroke-width="0.9" stroke-linejoin="round" font-weight="bold">PDRB</text>
<text><tspan x="989.85" y="1673.20" font-size="22.50" textLength="201.45" lengthAdjust="spacingAndGlyphs" fill="#fdf6ee" stroke="#fdf6ee" stroke-width="0.3" stroke-linejoin="round" font-weight="bold" font-style="italic">BADAN PUSAT STATISTIK</tspan> <tspan x="989.85" y="1694.20" font-size="22.50" textLength="146.31" lengthAdjust="spacingAndGlyphs" fill="#fdf6ee" stroke="#fdf6ee" stroke-width="0.3" stroke-linejoin="round" font-weight="bold" font-style="italic">PROVINSI BANTEN</tspan></text>
<text x="989.20" y="1716.70" font-size="19.00" textLength="149.61" lengthAdjust="spacingAndGlyphs" fill="#fdf6ee">https://banten.bps.go.id</text>
<text x="399.00" y="274.50" font-size="15.00" textLength="7.93" lengthAdjust="spacingAndGlyphs" fill="#2f9e44" font-weight="bold">$</text>
<text x="809.00" y="272.20" font-size="14.30" textLength="7.53" lengthAdjust="spacingAndGlyphs" fill="#2f9e44" font-weight="bold">$</text>
<text x="486.84" y="1181.80" font-size="17.00" textLength="25.80" lengthAdjust="spacingAndGlyphs" fill="#77787b" stroke="#77787b" stroke-width="0.3" stroke-linejoin="round" font-weight="bold">etc</text>
<text x="1099.80" y="1518.50" font-size="22.00" textLength="11.39" lengthAdjust="spacingAndGlyphs" fill="#f3a021" font-weight="bold">$</text>
</g>
</svg>
</body>
</html>
